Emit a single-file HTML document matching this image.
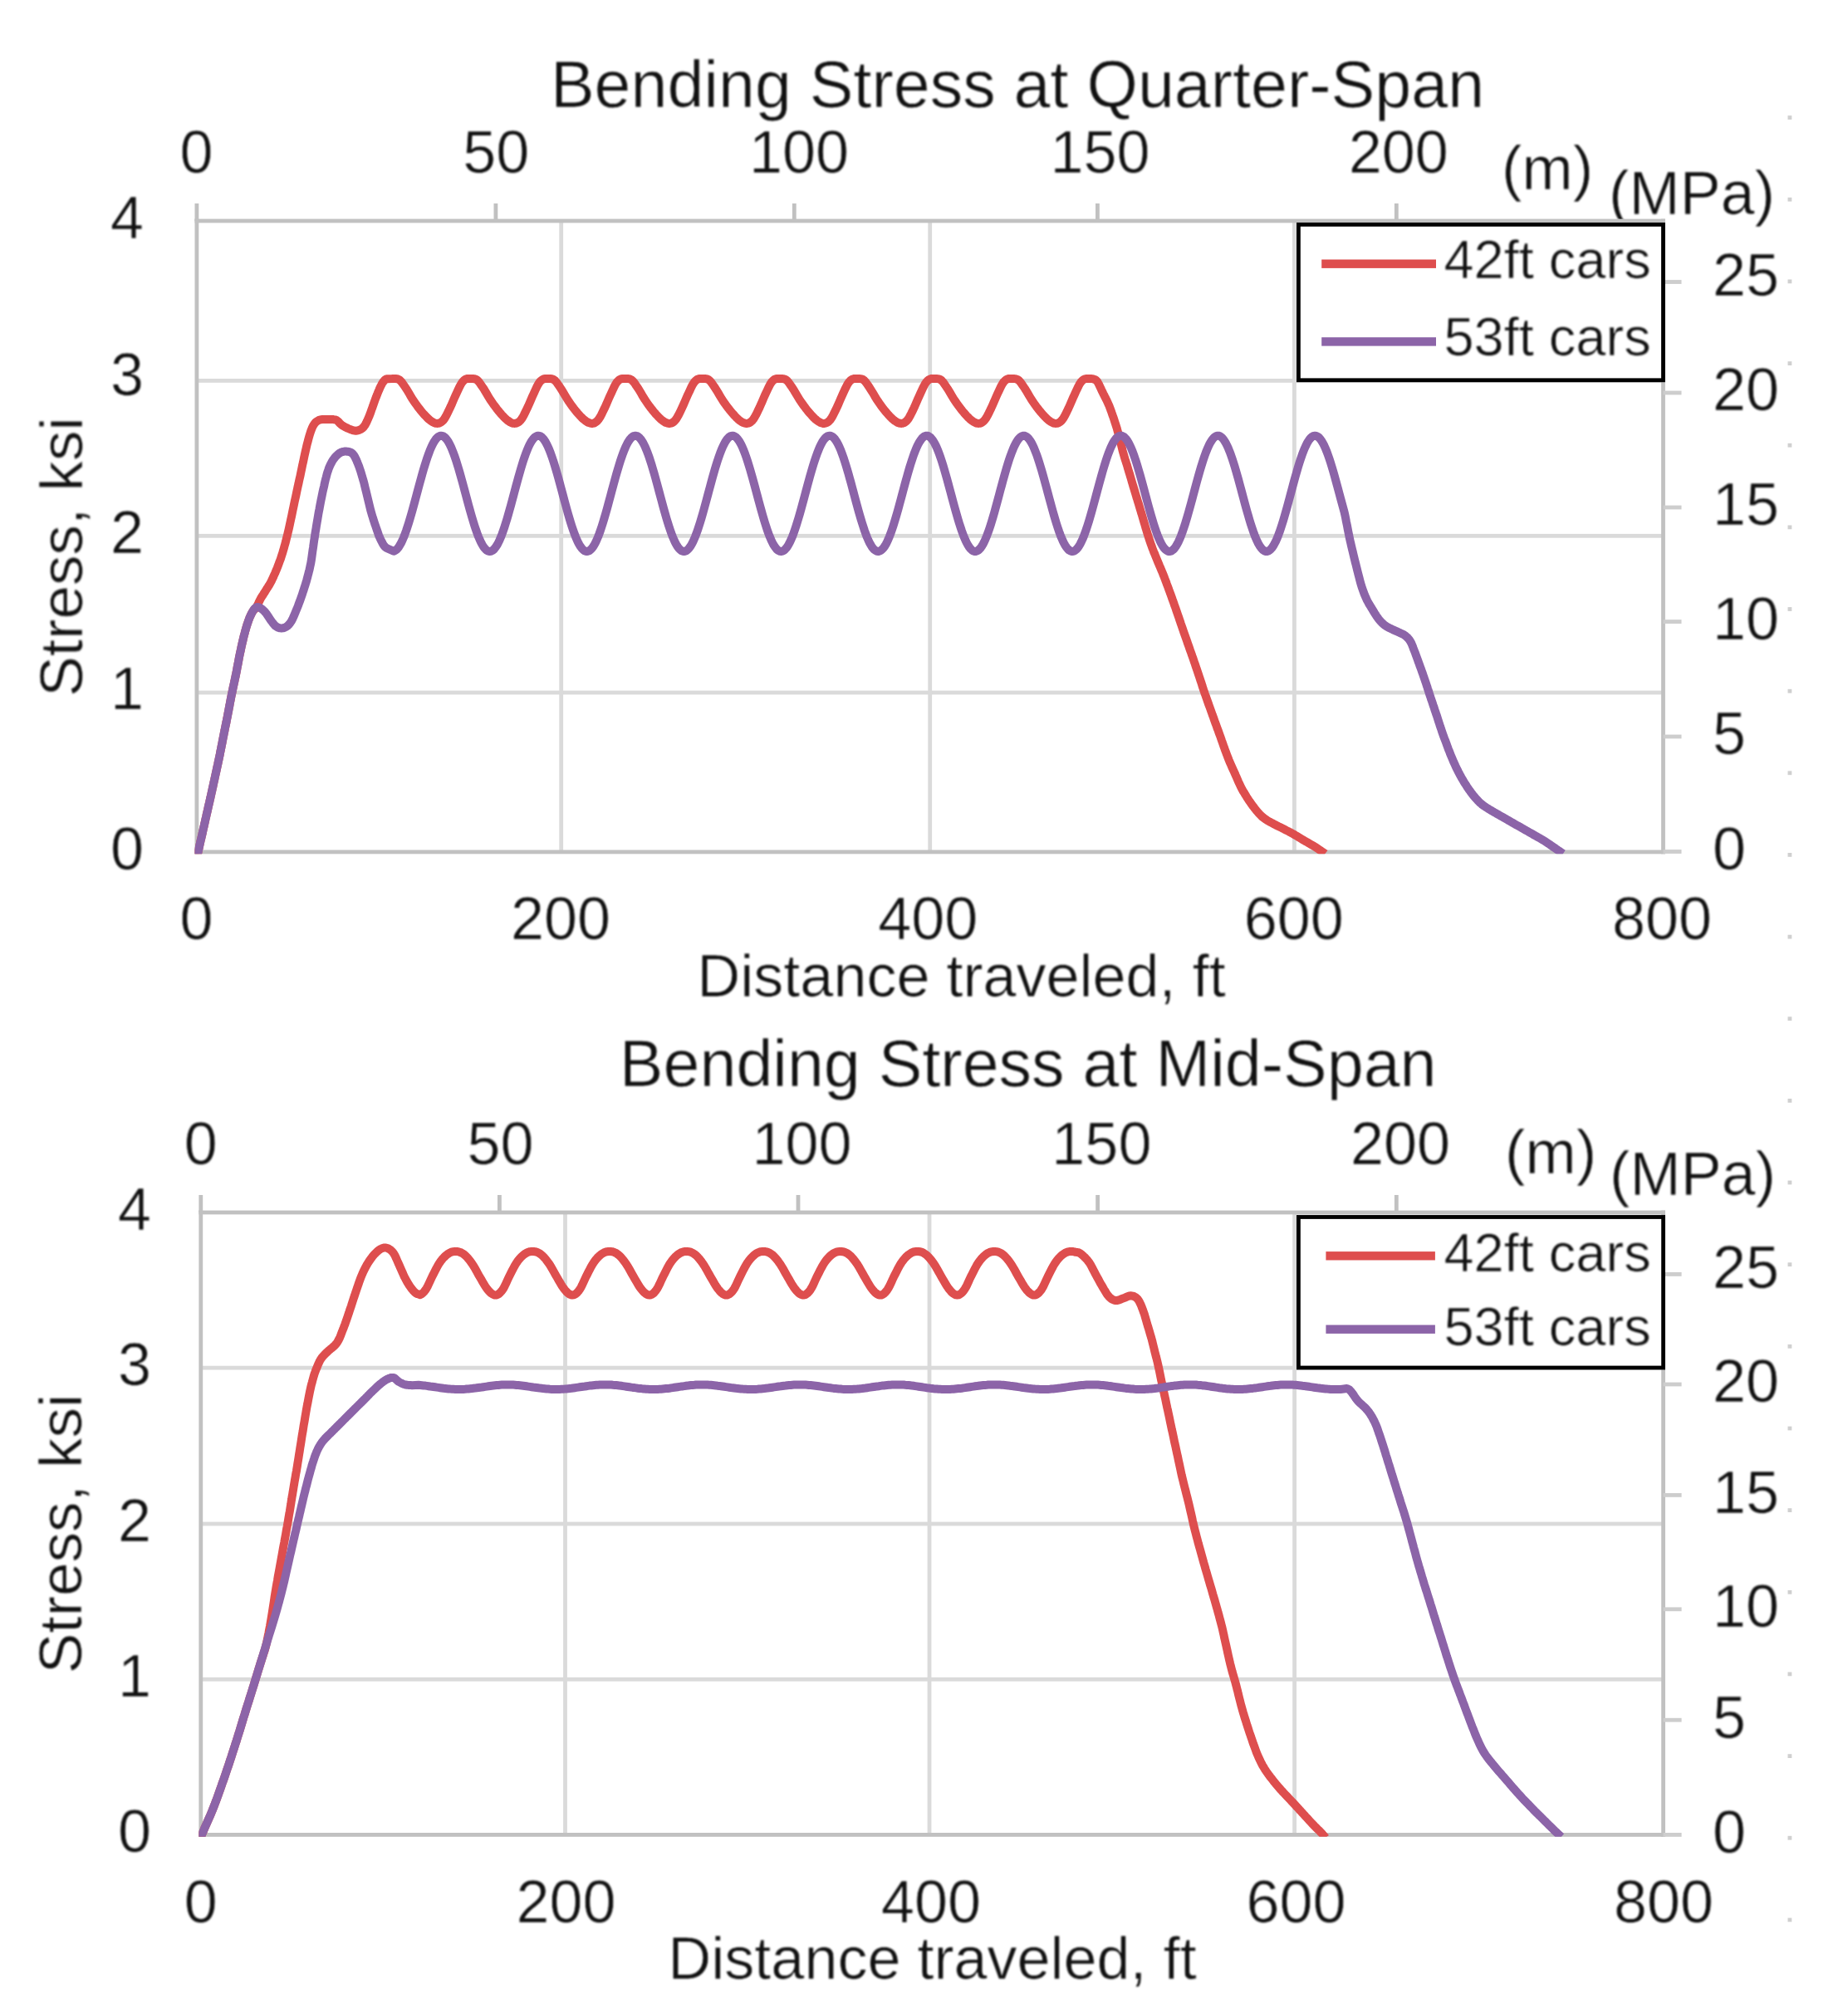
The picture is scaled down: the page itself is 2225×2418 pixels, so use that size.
<!DOCTYPE html>
<html><head><meta charset="utf-8"><title>Bending Stress</title>
<style>
html,body{margin:0;padding:0;background:#fff;}
svg{display:block;}
text{font-family:"Liberation Sans",Arial,sans-serif;fill:#111;stroke:#fff;stroke-width:0.7px;filter:blur(0.8px);}
.t{font-size:79px;}
.l{font-size:72px;}
.g{font-size:65px;}
.u{font-size:73.5px;}
</style></head><body>
<svg width="2225" height="2418" viewBox="0 0 2225 2418">
<rect width="2225" height="2418" fill="#fff"/>
<text class="u" x="1808" y="228">(m)</text>
<text class="u" x="1937" y="258">(MPa)</text>
<rect x="236.9" y="831.6" width="1765.6" height="4.8" fill="#DADADA"/>
<rect x="236.9" y="642.9" width="1765.6" height="4.8" fill="#DADADA"/>
<rect x="236.9" y="456.0" width="1765.6" height="4.8" fill="#DADADA"/>
<rect x="673.3" y="266" width="4.8" height="759.9000000000001" fill="#DADADA"/>
<rect x="1117.3" y="266" width="4.8" height="759.9000000000001" fill="#DADADA"/>
<rect x="1556.0" y="266" width="4.8" height="759.9000000000001" fill="#DADADA"/>
<rect x="234.5" y="263.6" width="4.8" height="764.7" fill="#C1C1C1"/>
<rect x="2000.1" y="263.6" width="4.8" height="764.7" fill="#C1C1C1"/>
<rect x="234.5" y="263.6" width="1770.4" height="4.8" fill="#C1C1C1"/>
<rect x="234.5" y="1023.5" width="1770.4" height="4.8" fill="#C1C1C1"/>
<rect x="234.5" y="245.0" width="4.8" height="21" fill="#C1C1C1"/>
<text class="l" x="236.6" y="208" text-anchor="middle">0</text>
<rect x="594.5" y="245.0" width="4.8" height="21" fill="#C1C1C1"/>
<text class="l" x="597.2" y="208" text-anchor="middle">50</text>
<rect x="953.9" y="245.0" width="4.8" height="21" fill="#C1C1C1"/>
<text class="l" x="962.0" y="208" text-anchor="middle">100</text>
<rect x="1319.0" y="245.0" width="4.8" height="21" fill="#C1C1C1"/>
<text class="l" x="1324.5" y="208" text-anchor="middle">150</text>
<rect x="1678.9" y="245.0" width="4.8" height="21" fill="#C1C1C1"/>
<text class="l" x="1683.7" y="208" text-anchor="middle">200</text>
<rect x="2002.5" y="337.1" width="22" height="4.8" fill="#CDCDCD"/>
<text class="l" x="2062" y="356.0">25</text>
<rect x="2002.5" y="470.6" width="22" height="4.8" fill="#CDCDCD"/>
<text class="l" x="2062" y="494.0">20</text>
<rect x="2002.5" y="608.6" width="22" height="4.8" fill="#CDCDCD"/>
<text class="l" x="2062" y="632.0">15</text>
<rect x="2002.5" y="746.2" width="22" height="4.8" fill="#CDCDCD"/>
<text class="l" x="2062" y="770.0">10</text>
<rect x="2002.5" y="884.6" width="22" height="4.8" fill="#CDCDCD"/>
<text class="l" x="2062" y="908.0">5</text>
<rect x="2002.5" y="1023.1" width="22" height="4.8" fill="#CDCDCD"/>
<text class="l" x="2062" y="1047.0">0</text>
<clipPath id="c1025"><rect x="234.5" y="266.0" width="1770.4" height="762.3"/></clipPath>
<g clip-path="url(#c1025)"><path d="M237.6,1030.0 L237.7,1029.5 L237.8,1029.0 L238.0,1028.4 L238.1,1027.6 L238.4,1026.7 L238.6,1025.5 L238.9,1024.2 L239.3,1022.5 L239.8,1020.5 L240.3,1018.1 L240.9,1015.5 L241.5,1012.7 L242.2,1009.8 L242.9,1006.8 L243.6,1003.9 L244.2,1001.0 L244.8,998.2 L245.5,995.4 L246.1,992.5 L246.8,989.6 L247.4,986.7 L248.1,983.8 L248.7,980.9 L249.4,978.0 L250.1,975.1 L250.7,972.2 L251.4,969.2 L252.1,966.3 L252.7,963.4 L253.4,960.5 L254.0,957.7 L254.6,955.0 L255.2,952.4 L255.7,949.9 L256.3,947.5 L256.8,945.1 L257.3,942.7 L257.9,940.2 L258.4,937.7 L259.0,935.0 L259.6,932.2 L260.3,929.2 L260.9,926.2 L261.6,923.1 L262.3,920.0 L262.9,917.0 L263.6,913.9 L264.2,911.0 L264.8,908.2 L265.3,905.4 L265.9,902.7 L266.4,900.0 L266.9,897.3 L267.5,894.6 L268.0,891.7 L268.6,888.8 L269.2,885.8 L269.8,882.6 L270.5,879.4 L271.1,876.2 L271.8,872.9 L272.5,869.6 L273.1,866.3 L273.8,863.0 L274.4,859.7 L275.1,856.3 L275.7,852.9 L276.4,849.5 L277.0,846.0 L277.7,842.6 L278.3,839.3 L279.0,836.0 L279.7,832.8 L280.3,829.6 L281.0,826.4 L281.7,823.2 L282.4,820.1 L283.0,817.0 L283.7,814.0 L284.3,811.0 L284.9,808.1 L285.4,805.2 L285.9,802.4 L286.5,799.7 L287.0,796.9 L287.5,794.1 L288.0,791.3 L288.6,788.5 L289.2,785.6 L289.9,782.6 L290.5,779.5 L291.2,776.4 L291.9,773.4 L292.6,770.5 L293.2,767.7 L293.9,765.0 L294.6,762.5 L295.2,760.1 L295.9,757.7 L296.5,755.5 L297.2,753.3 L297.8,751.3 L298.5,749.3 L299.1,747.5 L299.8,745.7 L300.4,744.1 L301.1,742.5 L301.8,741.1 L302.4,739.7 L303.1,738.4 L303.7,737.3 L304.3,736.2 L304.9,735.3 L305.4,734.6 L306.0,734.1 L306.5,733.6 L307.1,733.1 L307.6,732.6 L308.1,732.0 L308.7,731.2 L309.3,730.2 L309.8,729.1 L310.4,727.9 L311.0,726.7 L311.6,725.4 L312.2,724.1 L312.8,722.8 L313.5,721.5 L314.2,720.2 L315.0,718.9 L315.8,717.6 L316.7,716.3 L317.5,714.9 L318.4,713.6 L319.2,712.3 L320.0,711.0 L320.8,709.8 L321.5,708.6 L322.3,707.4 L323.0,706.3 L323.8,705.1 L324.5,703.8 L325.3,702.5 L326.1,701.0 L326.9,699.4 L327.8,697.6 L328.7,695.7 L329.5,693.8 L330.4,691.8 L331.3,689.9 L332.1,687.9 L332.9,686.0 L333.7,684.1 L334.4,682.2 L335.1,680.4 L335.8,678.5 L336.5,676.6 L337.2,674.8 L337.9,672.9 L338.5,671.0 L339.1,669.2 L339.7,667.3 L340.3,665.5 L340.8,663.7 L341.3,661.9 L341.9,660.0 L342.4,658.1 L343.0,656.0 L343.6,653.9 L344.2,651.6 L344.7,649.4 L345.3,647.0 L345.9,644.7 L346.5,642.2 L347.1,639.7 L347.7,637.1 L348.3,634.4 L348.9,631.6 L349.5,628.8 L350.1,625.9 L350.8,622.9 L351.4,619.9 L352.0,617.0 L352.6,614.1 L353.2,611.2 L353.8,608.4 L354.4,605.5 L355.0,602.6 L355.7,599.7 L356.3,596.9 L356.9,594.0 L357.5,591.1 L358.1,588.2 L358.7,585.4 L359.4,582.5 L360.0,579.6 L360.6,576.7 L361.3,573.9 L361.9,571.0 L362.5,568.1 L363.1,565.2 L363.7,562.3 L364.3,559.3 L365.0,556.4 L365.6,553.5 L366.2,550.6 L366.8,547.8 L367.4,545.1 L368.0,542.4 L368.6,539.8 L369.2,537.2 L369.8,534.6 L370.5,532.2 L371.1,529.8 L371.7,527.5 L372.3,525.4 L372.9,523.4 L373.5,521.5 L374.1,519.7 L374.7,518.0 L375.3,516.4 L375.9,514.9 L376.6,513.5 L377.3,512.2 L378.0,511.1 L378.8,510.0 L379.5,509.1 L380.3,508.3 L381.2,507.6 L382.0,507.0 L382.9,506.5 L383.8,506.0 L384.8,505.6 L385.8,505.4 L386.8,505.2 L387.9,505.1 L388.9,505.1 L390.0,505.1 L391.1,505.0 L392.1,505.0 L393.1,504.9 L394.2,504.9 L395.2,504.9 L396.2,504.9 L397.2,504.9 L398.2,504.9 L399.1,504.9 L400.0,505.0 L400.8,505.1 L401.5,505.1 L402.2,505.2 L402.9,505.2 L403.5,505.4 L404.1,505.5 L404.8,505.8 L405.5,506.2 L406.2,506.7 L406.9,507.3 L407.7,508.1 L408.4,508.9 L409.1,509.7 L410.0,510.5 L410.8,511.3 L411.8,512.0 L412.9,512.7 L414.0,513.4 L415.3,514.1 L416.6,514.8 L417.9,515.4 L419.2,516.0 L420.4,516.5 L421.6,517.0 L422.7,517.4 L423.8,517.8 L424.8,518.1 L425.9,518.4 L426.9,518.6 L427.9,518.7 L428.9,518.7 L429.9,518.6 L430.9,518.4 L432.0,518.0 L433.1,517.6 L434.1,517.1 L435.1,516.5 L436.2,515.7 L437.2,514.8 L438.1,513.8 L439.0,512.6 L439.9,511.2 L440.7,509.7 L441.5,508.1 L442.3,506.3 L443.1,504.5 L443.9,502.6 L444.7,500.7 L445.5,498.7 L446.3,496.5 L447.1,494.2 L447.9,491.9 L448.8,489.5 L449.6,487.1 L450.4,484.8 L451.2,482.6 L452.0,480.4 L452.9,478.2 L453.7,476.0 L454.6,473.8 L455.4,471.7 L456.3,469.7 L457.1,467.8 L457.8,466.2 L458.5,464.8 L459.2,463.5 L459.8,462.3 L460.4,461.3 L461.0,460.4 L461.6,459.6 L462.1,458.9 L462.7,458.2 L463.2,457.6 L463.7,457.2 L464.1,456.9 L464.5,456.7 L464.9,456.5 L465.5,456.4 L466.1,456.3 L467.0,456.2 L471.9,456.0 L473.4,455.9 L474.9,455.9 L476.4,456.0 L477.9,456.2 L479.4,456.6 L480.9,457.4 L482.4,458.7 L483.9,460.5 L485.4,462.6 L486.9,464.8 L488.4,467.0 L489.9,469.3 L491.4,471.8 L492.9,474.3 L494.4,476.9 L495.9,479.4 L497.4,481.7 L498.9,484.0 L500.4,486.1 L501.9,488.2 L503.4,490.3 L504.9,492.2 L506.4,494.1 L507.9,496.0 L509.4,497.7 L510.9,499.4 L512.5,501.0 L514.0,502.6 L515.5,504.1 L517.0,505.4 L518.5,506.6 L520.0,507.6 L521.5,508.5 L523.0,509.2 L524.5,509.7 L526.0,509.9 L527.5,509.8 L529.0,509.5 L530.5,508.8 L532.0,507.7 L533.5,506.3 L535.0,504.4 L536.5,501.9 L538.0,499.1 L539.5,496.0 L541.0,492.9 L542.5,489.8 L544.0,486.4 L545.5,482.9 L547.0,479.4 L548.5,476.1 L550.0,472.9 L551.5,469.6 L553.0,466.4 L554.5,463.5 L556.0,461.0 L557.5,459.1 L559.0,457.7 L560.5,456.7 L562.0,456.1 L563.5,456.0 L565.0,456.0 L566.5,455.9 L568.0,455.9 L569.5,456.0 L571.0,456.2 L572.5,456.6 L574.0,457.3 L575.5,458.6 L577.0,460.3 L578.5,462.4 L580.0,464.7 L581.5,466.8 L583.0,469.1 L584.5,471.6 L586.0,474.1 L587.5,476.7 L589.0,479.2 L590.5,481.6 L592.0,483.8 L593.5,486.0 L595.0,488.1 L596.5,490.1 L598.0,492.1 L599.5,494.0 L601.0,495.8 L602.5,497.6 L604.0,499.3 L605.5,500.9 L607.0,502.5 L608.5,504.0 L610.0,505.3 L611.5,506.5 L613.0,507.5 L614.5,508.5 L616.0,509.2 L617.5,509.7 L619.0,509.9 L620.5,509.8 L622.0,509.5 L623.5,508.8 L625.0,507.8 L626.5,506.4 L628.0,504.5 L629.5,502.1 L631.0,499.3 L632.5,496.2 L634.0,493.1 L635.5,490.0 L637.0,486.7 L638.5,483.2 L640.0,479.7 L641.5,476.3 L643.0,473.1 L644.5,469.8 L646.0,466.6 L647.5,463.6 L649.0,461.1 L650.5,459.2 L652.0,457.8 L653.5,456.8 L655.0,456.2 L656.5,456.0 L658.0,456.0 L659.5,455.9 L661.0,455.9 L662.5,455.9 L664.0,456.2 L665.5,456.6 L667.0,457.3 L668.5,458.5 L670.0,460.2 L671.5,462.3 L673.0,464.5 L674.5,466.7 L676.0,469.0 L677.5,471.4 L679.0,474.0 L680.5,476.5 L682.0,479.0 L683.5,481.4 L685.0,483.7 L686.5,485.8 L688.0,488.0 L689.5,490.0 L691.0,492.0 L692.5,493.9 L694.0,495.7 L695.5,497.5 L697.0,499.2 L698.5,500.8 L700.0,502.4 L701.5,503.9 L703.0,505.2 L704.5,506.4 L706.0,507.5 L707.5,508.4 L709.0,509.1 L710.5,509.6 L712.0,509.9 L713.5,509.9 L715.0,509.6 L716.5,508.9 L718.0,507.9 L719.5,506.5 L721.0,504.6 L722.5,502.3 L724.0,499.5 L725.5,496.4 L727.0,493.3 L728.5,490.2 L730.0,486.9 L731.5,483.4 L733.0,479.9 L734.5,476.5 L736.0,473.3 L737.5,470.0 L739.0,466.8 L740.5,463.8 L742.0,461.3 L743.5,459.3 L745.0,457.9 L746.5,456.8 L748.0,456.2 L749.5,456.0 L751.0,456.0 L752.5,455.9 L754.0,455.9 L755.5,455.9 L757.0,456.2 L758.5,456.5 L760.0,457.2 L761.5,458.4 L763.0,460.1 L764.5,462.1 L766.0,464.4 L767.5,466.5 L769.0,468.8 L770.5,471.3 L772.0,473.8 L773.5,476.4 L775.0,478.9 L776.5,481.3 L778.0,483.5 L779.5,485.7 L781.0,487.8 L782.5,489.9 L784.0,491.8 L785.5,493.8 L787.0,495.6 L788.5,497.4 L790.0,499.1 L791.5,500.7 L793.0,502.3 L794.5,503.8 L796.0,505.1 L797.5,506.3 L799.0,507.4 L800.5,508.4 L802.0,509.1 L803.5,509.6 L805.0,509.9 L806.5,509.9 L808.0,509.6 L809.5,509.0 L811.0,508.0 L812.5,506.6 L814.0,504.8 L815.5,502.4 L817.0,499.7 L818.5,496.7 L820.0,493.6 L821.5,490.4 L823.0,487.1 L824.5,483.6 L826.0,480.1 L827.5,476.7 L829.0,473.5 L830.5,470.3 L832.0,467.0 L833.5,464.0 L835.0,461.4 L836.5,459.4 L838.0,458.0 L839.5,456.9 L841.0,456.2 L842.5,456.0 L844.0,456.0 L845.5,455.9 L847.0,455.9 L848.5,455.9 L850.0,456.2 L851.5,456.5 L853.0,457.1 L854.5,458.3 L856.0,460.0 L857.5,462.0 L859.0,464.2 L860.5,466.4 L862.0,468.7 L863.5,471.1 L865.0,473.6 L866.5,476.2 L868.0,478.7 L869.5,481.1 L871.0,483.4 L872.5,485.6 L874.0,487.7 L875.5,489.7 L877.0,491.7 L878.5,493.6 L880.0,495.5 L881.5,497.2 L883.0,498.9 L884.5,500.6 L886.0,502.2 L887.5,503.7 L889.0,505.1 L890.5,506.3 L892.0,507.3 L893.5,508.3 L895.0,509.1 L896.5,509.6 L898.0,509.9 L899.5,509.9 L901.0,509.6 L902.5,509.0 L904.0,508.0 L905.5,506.7 L907.0,504.9 L908.5,502.6 L910.0,499.9 L911.5,496.9 L913.0,493.8 L914.5,490.7 L916.0,487.3 L917.5,483.9 L919.0,480.4 L920.5,476.9 L922.0,473.7 L923.5,470.5 L925.0,467.2 L926.5,464.2 L928.0,461.6 L929.5,459.5 L931.0,458.0 L932.5,456.9 L934.0,456.2 L935.5,456.0 L937.0,456.0 L938.5,455.9 L940.0,455.9 L941.5,455.9 L943.0,456.1 L944.5,456.5 L946.0,457.1 L947.5,458.2 L949.0,459.8 L950.5,461.9 L952.0,464.1 L953.5,466.2 L955.0,468.5 L956.5,470.9 L958.0,473.5 L959.5,476.0 L961.0,478.5 L962.5,481.0 L964.0,483.2 L965.5,485.4 L967.0,487.5 L968.5,489.6 L970.0,491.6 L971.5,493.5 L973.0,495.4 L974.5,497.1 L976.0,498.8 L977.5,500.5 L979.0,502.1 L980.5,503.6 L982.0,505.0 L983.5,506.2 L985.0,507.3 L986.5,508.2 L988.0,509.0 L989.5,509.5 L991.0,509.9 L992.5,509.9 L994.0,509.6 L995.5,509.1 L997.0,508.1 L998.5,506.8 L1000.0,505.1 L1001.5,502.8 L1003.0,500.1 L1004.5,497.1 L1006.0,494.0 L1007.5,490.9 L1009.0,487.6 L1010.5,484.1 L1012.0,480.6 L1013.5,477.2 L1015.0,473.9 L1016.5,470.7 L1018.0,467.4 L1019.5,464.4 L1021.0,461.7 L1022.5,459.7 L1024.0,458.1 L1025.5,457.0 L1027.0,456.3 L1028.5,456.0 L1030.0,456.0 L1031.5,455.9 L1033.0,455.9 L1034.5,455.9 L1036.0,456.1 L1037.5,456.4 L1039.0,457.0 L1040.5,458.1 L1042.0,459.7 L1043.5,461.7 L1045.0,463.9 L1046.5,466.1 L1048.0,468.4 L1049.5,470.8 L1051.0,473.3 L1052.5,475.8 L1054.0,478.4 L1055.5,480.8 L1057.0,483.1 L1058.5,485.3 L1060.0,487.4 L1061.5,489.5 L1063.0,491.5 L1064.5,493.4 L1066.0,495.2 L1067.5,497.0 L1069.0,498.7 L1070.5,500.4 L1072.0,502.0 L1073.5,503.5 L1075.0,504.9 L1076.5,506.1 L1078.0,507.2 L1079.5,508.2 L1081.0,509.0 L1082.5,509.5 L1084.0,509.8 L1085.5,509.9 L1087.0,509.7 L1088.5,509.1 L1090.0,508.2 L1091.5,506.9 L1093.0,505.2 L1094.5,502.9 L1096.0,500.2 L1097.5,497.3 L1099.0,494.2 L1100.5,491.1 L1102.0,487.8 L1103.5,484.3 L1105.0,480.8 L1106.5,477.4 L1108.0,474.1 L1109.5,470.9 L1111.0,467.7 L1112.5,464.6 L1114.0,461.9 L1115.5,459.8 L1117.0,458.2 L1118.5,457.1 L1120.0,456.3 L1121.5,456.0 L1123.0,456.0 L1124.5,455.9 L1126.0,455.9 L1127.5,455.9 L1129.0,456.1 L1130.5,456.4 L1132.0,457.0 L1133.5,458.0 L1135.0,459.6 L1136.5,461.6 L1138.0,463.8 L1139.5,466.0 L1141.0,468.2 L1142.5,470.6 L1144.0,473.1 L1145.5,475.7 L1147.0,478.2 L1148.5,480.7 L1150.0,482.9 L1151.5,485.1 L1153.0,487.3 L1154.5,489.3 L1156.0,491.3 L1157.5,493.3 L1159.0,495.1 L1160.5,496.9 L1162.0,498.6 L1163.5,500.3 L1165.0,501.9 L1166.5,503.4 L1168.0,504.8 L1169.5,506.0 L1171.0,507.1 L1172.5,508.1 L1174.0,508.9 L1175.5,509.5 L1177.0,509.8 L1178.5,509.9 L1180.0,509.7 L1181.5,509.2 L1183.0,508.3 L1184.5,507.0 L1186.0,505.3 L1187.5,503.1 L1189.0,500.4 L1190.5,497.5 L1192.0,494.4 L1193.5,491.3 L1195.0,488.0 L1196.5,484.6 L1198.0,481.1 L1199.5,477.6 L1201.0,474.3 L1202.5,471.1 L1204.0,467.9 L1205.5,464.8 L1207.0,462.1 L1208.5,459.9 L1210.0,458.3 L1211.5,457.1 L1213.0,456.3 L1214.5,456.0 L1216.0,456.0 L1217.5,456.0 L1219.0,455.9 L1220.5,455.9 L1222.0,456.1 L1223.5,456.4 L1225.0,456.9 L1226.5,457.9 L1228.0,459.5 L1229.5,461.4 L1231.0,463.6 L1232.5,465.8 L1234.0,468.0 L1235.5,470.4 L1237.0,472.9 L1238.5,475.5 L1240.0,478.0 L1241.5,480.5 L1243.0,482.8 L1244.5,485.0 L1246.0,487.1 L1247.5,489.2 L1249.0,491.2 L1250.5,493.1 L1252.0,495.0 L1253.5,496.8 L1255.0,498.5 L1256.5,500.2 L1258.0,501.8 L1259.5,503.3 L1261.0,504.7 L1262.5,506.0 L1264.0,507.1 L1265.5,508.1 L1267.0,508.9 L1268.5,509.5 L1270.0,509.8 L1271.5,509.9 L1273.0,509.7 L1274.5,509.2 L1276.0,508.3 L1277.5,507.1 L1279.0,505.4 L1280.5,503.3 L1282.0,500.6 L1283.5,497.7 L1285.0,494.6 L1286.5,491.5 L1288.0,488.2 L1289.5,484.8 L1291.0,481.3 L1292.5,477.8 L1294.0,474.6 L1295.5,471.3 L1297.0,468.1 L1298.5,465.0 L1300.0,462.2 L1301.5,460.0 L1303.0,458.4 L1304.5,457.2 L1306.0,456.4 L1307.5,456.1 L1309.0,456.0 L1310.5,456.0 L1312.0,455.9 L1313.5,455.9 L1315.0,456.1 L1316.5,456.4 L1318.0,456.9 L1319.5,457.8 L1321.0,459.3 L1321.0,459.3 L1321.8,460.5 L1322.6,462.0 L1323.4,463.6 L1324.3,465.4 L1325.2,467.3 L1326.0,469.1 L1326.9,471.0 L1327.7,472.7 L1328.5,474.4 L1329.4,476.0 L1330.2,477.7 L1331.1,479.3 L1331.9,481.0 L1332.7,482.6 L1333.5,484.3 L1334.2,485.9 L1334.9,487.5 L1335.6,489.1 L1336.2,490.7 L1336.8,492.3 L1337.4,494.0 L1338.0,495.6 L1338.6,497.3 L1339.2,499.0 L1339.8,500.8 L1340.5,502.6 L1341.1,504.4 L1341.7,506.3 L1342.3,508.2 L1342.9,510.1 L1343.5,511.9 L1344.1,513.8 L1344.7,515.6 L1345.2,517.5 L1345.7,519.3 L1346.2,521.1 L1346.7,522.9 L1347.2,524.8 L1347.7,526.7 L1348.2,528.6 L1348.7,530.6 L1349.2,532.6 L1349.7,534.7 L1350.2,536.8 L1350.7,538.8 L1351.2,540.9 L1351.7,543.0 L1352.3,545.1 L1352.9,547.2 L1353.5,549.2 L1354.1,551.3 L1354.7,553.3 L1355.4,555.3 L1356.0,557.4 L1356.7,559.4 L1357.3,561.5 L1357.9,563.6 L1358.5,565.6 L1359.1,567.7 L1359.8,569.8 L1360.4,571.8 L1361.0,573.9 L1361.6,575.9 L1362.2,578.0 L1362.8,580.1 L1363.4,582.1 L1364.0,584.2 L1364.6,586.2 L1365.3,588.3 L1365.9,590.3 L1366.5,592.4 L1367.1,594.4 L1367.7,596.4 L1368.3,598.5 L1369.0,600.5 L1369.6,602.6 L1370.2,604.6 L1370.9,606.7 L1371.5,608.7 L1372.1,610.8 L1372.7,612.9 L1373.3,614.9 L1373.9,617.0 L1374.6,619.0 L1375.2,621.1 L1375.8,623.2 L1376.4,625.2 L1377.0,627.3 L1377.6,629.4 L1378.2,631.4 L1378.8,633.5 L1379.4,635.6 L1380.1,637.7 L1380.7,639.7 L1381.3,641.7 L1381.9,643.7 L1382.5,645.6 L1383.1,647.5 L1383.7,649.3 L1384.3,651.1 L1384.9,652.9 L1385.5,654.7 L1386.2,656.6 L1386.9,658.5 L1387.6,660.5 L1388.4,662.5 L1389.2,664.6 L1390.1,666.6 L1390.9,668.7 L1391.7,670.8 L1392.6,672.9 L1393.4,674.9 L1394.2,676.9 L1395.1,678.9 L1395.9,680.9 L1396.8,682.8 L1397.6,684.8 L1398.4,686.7 L1399.2,688.6 L1400.0,690.5 L1400.7,692.4 L1401.5,694.2 L1402.1,696.0 L1402.8,697.8 L1403.5,699.6 L1404.2,701.4 L1404.8,703.2 L1405.5,705.0 L1406.2,706.8 L1406.9,708.7 L1407.5,710.5 L1408.2,712.3 L1408.9,714.2 L1409.6,716.1 L1410.3,718.0 L1411.0,720.0 L1411.7,722.0 L1412.5,724.1 L1413.2,726.1 L1413.9,728.2 L1414.7,730.4 L1415.5,732.6 L1416.2,734.8 L1417.0,737.0 L1417.8,739.3 L1418.6,741.6 L1419.4,743.9 L1420.2,746.3 L1421.0,748.7 L1421.8,751.1 L1422.7,753.6 L1423.5,756.0 L1424.4,758.5 L1425.2,761.0 L1426.1,763.5 L1427.0,766.0 L1427.9,768.5 L1428.8,771.0 L1429.6,773.5 L1430.5,776.0 L1431.4,778.4 L1432.2,780.8 L1433.0,783.2 L1433.9,785.5 L1434.7,787.9 L1435.5,790.2 L1436.4,792.6 L1437.2,795.0 L1438.0,797.4 L1438.9,799.9 L1439.7,802.3 L1440.5,804.8 L1441.4,807.2 L1442.2,809.7 L1443.0,812.1 L1443.8,814.5 L1444.6,816.9 L1445.4,819.3 L1446.2,821.7 L1447.0,824.1 L1447.7,826.5 L1448.5,828.8 L1449.2,831.1 L1450.0,833.3 L1450.7,835.5 L1451.5,837.5 L1452.2,839.6 L1452.9,841.5 L1453.6,843.5 L1454.3,845.5 L1455.0,847.6 L1455.8,849.7 L1456.6,851.9 L1457.4,854.1 L1458.2,856.4 L1459.0,858.6 L1459.8,860.9 L1460.7,863.2 L1461.5,865.5 L1462.3,867.8 L1463.1,870.1 L1464.0,872.4 L1464.8,874.7 L1465.6,877.0 L1466.5,879.2 L1467.3,881.5 L1468.1,883.7 L1468.9,885.9 L1469.7,888.0 L1470.4,890.2 L1471.1,892.2 L1471.9,894.3 L1472.6,896.3 L1473.3,898.4 L1474.0,900.3 L1474.7,902.3 L1475.4,904.2 L1476.1,906.1 L1476.8,908.0 L1477.5,909.8 L1478.2,911.6 L1478.9,913.4 L1479.6,915.3 L1480.4,917.1 L1481.2,919.0 L1482.0,920.8 L1482.8,922.6 L1483.6,924.5 L1484.5,926.4 L1485.3,928.2 L1486.2,930.1 L1487.0,931.9 L1487.8,933.8 L1488.7,935.7 L1489.5,937.6 L1490.3,939.5 L1491.1,941.4 L1492.0,943.2 L1492.8,945.0 L1493.6,946.7 L1494.4,948.3 L1495.2,949.8 L1496.0,951.3 L1496.8,952.8 L1497.7,954.1 L1498.5,955.5 L1499.3,956.9 L1500.1,958.2 L1500.9,959.5 L1501.7,960.8 L1502.5,962.0 L1503.3,963.2 L1504.1,964.4 L1504.9,965.6 L1505.8,966.8 L1506.7,968.1 L1507.6,969.4 L1508.6,970.8 L1509.7,972.1 L1510.7,973.5 L1511.7,974.8 L1512.8,976.2 L1513.9,977.4 L1514.9,978.6 L1515.9,979.7 L1516.9,980.7 L1517.9,981.7 L1518.8,982.6 L1519.8,983.6 L1520.9,984.4 L1522.0,985.3 L1523.2,986.2 L1524.5,987.1 L1525.8,987.9 L1527.3,988.8 L1528.8,989.6 L1530.2,990.4 L1531.8,991.2 L1533.2,992.0 L1534.7,992.8 L1536.1,993.5 L1537.6,994.3 L1539.0,995.0 L1540.4,995.6 L1541.8,996.3 L1543.3,997.0 L1544.7,997.8 L1546.2,998.5 L1547.7,999.3 L1549.2,1000.1 L1550.8,1000.9 L1552.3,1001.7 L1553.9,1002.5 L1555.4,1003.4 L1557.0,1004.2 L1558.5,1005.1 L1560.0,1006.0 L1561.6,1006.9 L1563.1,1007.9 L1564.7,1008.8 L1566.2,1009.7 L1567.8,1010.7 L1569.3,1011.6 L1570.8,1012.5 L1572.3,1013.4 L1573.8,1014.2 L1575.4,1015.1 L1576.9,1016.0 L1578.3,1016.8 L1579.7,1017.6 L1581.1,1018.4 L1582.3,1019.1 L1583.4,1019.8 L1584.5,1020.5 L1585.4,1021.1 L1586.4,1021.7 L1587.2,1022.3 L1588.1,1022.9 L1588.9,1023.4 L1589.7,1024.0 L1590.5,1024.6 L1591.4,1025.2 L1592.2,1025.7 L1593.1,1026.3 L1593.8,1026.8 L1594.5,1027.3 L1595.1,1027.7 L1595.5,1028.0" fill="none" stroke="#DE4E4E" stroke-width="10" stroke-linejoin="round" stroke-linecap="butt"/>
<path d="M237.6,1030.0 L237.7,1029.5 L237.8,1029.0 L238.0,1028.4 L238.1,1027.6 L238.4,1026.7 L238.6,1025.5 L238.9,1024.2 L239.3,1022.5 L239.8,1020.5 L240.3,1018.1 L240.9,1015.5 L241.5,1012.7 L242.2,1009.8 L242.9,1006.8 L243.6,1003.9 L244.2,1001.0 L244.8,998.2 L245.5,995.4 L246.1,992.5 L246.8,989.6 L247.4,986.7 L248.1,983.8 L248.7,980.9 L249.4,978.0 L250.1,975.1 L250.7,972.2 L251.4,969.2 L252.1,966.3 L252.7,963.4 L253.4,960.5 L254.0,957.7 L254.6,955.0 L255.2,952.4 L255.7,949.9 L256.3,947.5 L256.8,945.1 L257.3,942.7 L257.9,940.2 L258.4,937.7 L259.0,935.0 L259.6,932.2 L260.3,929.2 L260.9,926.2 L261.6,923.1 L262.3,920.0 L262.9,917.0 L263.6,913.9 L264.2,911.0 L264.8,908.2 L265.3,905.4 L265.9,902.7 L266.4,900.0 L266.9,897.3 L267.5,894.6 L268.0,891.7 L268.6,888.8 L269.2,885.8 L269.8,882.6 L270.5,879.4 L271.1,876.2 L271.8,872.9 L272.5,869.6 L273.1,866.3 L273.8,863.0 L274.4,859.7 L275.1,856.3 L275.7,852.9 L276.4,849.5 L277.0,846.0 L277.7,842.6 L278.3,839.3 L279.0,836.0 L279.7,832.8 L280.3,829.6 L281.0,826.4 L281.7,823.2 L282.4,820.1 L283.0,817.0 L283.7,814.0 L284.3,811.0 L284.9,808.1 L285.4,805.2 L285.9,802.4 L286.5,799.7 L287.0,796.9 L287.5,794.1 L288.0,791.3 L288.6,788.5 L289.2,785.6 L289.9,782.6 L290.5,779.5 L291.2,776.4 L291.9,773.4 L292.6,770.5 L293.2,767.7 L293.9,765.0 L294.6,762.5 L295.2,760.1 L295.9,757.7 L296.5,755.5 L297.2,753.3 L297.8,751.3 L298.5,749.3 L299.1,747.5 L299.8,745.7 L300.4,744.1 L301.1,742.5 L301.8,741.1 L302.4,739.7 L303.1,738.4 L303.7,737.3 L304.3,736.2 L304.9,735.2 L305.4,734.4 L306.0,733.6 L306.5,732.9 L307.0,732.3 L307.6,731.9 L308.1,731.5 L308.7,731.2 L309.3,731.0 L309.9,731.0 L310.6,731.0 L311.2,731.1 L311.8,731.4 L312.5,731.6 L313.2,732.0 L313.9,732.4 L314.6,732.9 L315.4,733.4 L316.1,734.0 L316.9,734.7 L317.7,735.5 L318.5,736.3 L319.2,737.1 L320.0,738.0 L320.8,739.0 L321.5,740.1 L322.3,741.2 L323.1,742.4 L323.8,743.6 L324.6,744.8 L325.3,745.9 L326.1,747.0 L326.8,748.0 L327.6,749.0 L328.3,750.0 L329.0,750.9 L329.8,751.8 L330.5,752.6 L331.2,753.4 L332.0,754.0 L332.8,754.6 L333.6,755.0 L334.4,755.5 L335.2,755.8 L336.0,756.1 L336.9,756.3 L337.7,756.4 L338.5,756.5 L339.3,756.5 L340.1,756.4 L341.0,756.3 L341.8,756.0 L342.6,755.7 L343.4,755.4 L344.2,755.0 L345.0,754.5 L345.7,754.0 L346.5,753.4 L347.1,752.8 L347.8,752.1 L348.5,751.3 L349.2,750.5 L349.8,749.5 L350.5,748.5 L351.2,747.4 L351.8,746.1 L352.5,744.8 L353.1,743.4 L353.8,741.9 L354.4,740.4 L355.1,738.8 L355.8,737.1 L356.5,735.3 L357.3,733.5 L358.1,731.5 L358.9,729.5 L359.6,727.5 L360.4,725.4 L361.2,723.4 L361.9,721.4 L362.6,719.4 L363.3,717.4 L364.0,715.4 L364.6,713.4 L365.3,711.4 L365.9,709.5 L366.5,707.6 L367.1,705.7 L367.7,703.9 L368.2,702.2 L368.7,700.5 L369.2,698.8 L369.6,697.2 L370.1,695.5 L370.5,693.8 L371.0,692.0 L371.5,690.2 L371.9,688.4 L372.4,686.7 L372.8,684.9 L373.2,683.0 L373.6,681.0 L374.1,678.9 L374.5,676.6 L374.9,674.1 L375.3,671.4 L375.7,668.5 L376.1,665.6 L376.5,662.6 L377.0,659.5 L377.4,656.5 L377.8,653.6 L378.2,650.7 L378.7,647.9 L379.1,645.0 L379.5,642.1 L380.0,639.2 L380.5,636.4 L380.9,633.5 L381.4,630.6 L381.9,627.7 L382.4,624.8 L382.9,621.8 L383.4,618.8 L383.9,615.9 L384.5,613.0 L385.0,610.2 L385.5,607.5 L386.0,604.9 L386.5,602.3 L387.0,599.9 L387.5,597.4 L388.0,595.0 L388.5,592.6 L389.0,590.2 L389.6,587.8 L390.2,585.3 L390.7,582.7 L391.3,580.1 L391.9,577.5 L392.6,575.0 L393.2,572.6 L393.8,570.3 L394.5,568.1 L395.2,566.1 L395.8,564.2 L396.5,562.5 L397.2,560.8 L397.9,559.3 L398.7,557.8 L399.5,556.3 L400.3,554.9 L401.2,553.5 L402.2,552.2 L403.2,550.9 L404.3,549.7 L405.3,548.6 L406.4,547.6 L407.5,546.7 L408.5,545.9 L409.5,545.3 L410.6,544.7 L411.6,544.3 L412.6,544.0 L413.6,543.8 L414.6,543.6 L415.7,543.6 L416.7,543.6 L417.7,543.7 L418.8,543.8 L419.8,543.9 L420.9,544.2 L421.9,544.6 L423.0,545.1 L424.0,545.8 L424.9,546.7 L425.8,547.8 L426.7,549.2 L427.5,550.7 L428.3,552.4 L429.2,554.1 L429.9,556.0 L430.7,557.9 L431.5,559.9 L432.3,561.9 L433.0,564.0 L433.8,566.3 L434.5,568.5 L435.2,570.9 L435.9,573.2 L436.6,575.6 L437.3,578.0 L438.0,580.4 L438.6,582.8 L439.2,585.3 L439.8,587.8 L440.4,590.2 L441.0,592.7 L441.6,595.2 L442.2,597.7 L442.8,600.2 L443.4,602.7 L444.0,605.2 L444.6,607.6 L445.2,610.1 L445.8,612.6 L446.4,615.0 L447.1,617.4 L447.8,619.8 L448.5,622.1 L449.2,624.4 L450.0,626.8 L450.7,629.0 L451.4,631.2 L452.2,633.4 L452.9,635.5 L453.6,637.5 L454.3,639.5 L455.0,641.5 L455.6,643.4 L456.3,645.3 L457.1,647.0 L457.8,648.7 L458.6,650.3 L459.4,651.8 L460.2,653.4 L461.0,654.9 L461.8,656.3 L462.7,657.5 L463.6,658.6 L464.7,659.5 L466.0,660.2 L474.0,663.8 L475.5,663.2 L477.0,662.2 L478.5,660.7 L480.0,658.8 L481.5,656.4 L483.0,653.7 L484.5,650.6 L486.0,647.1 L487.5,643.2 L489.0,639.1 L490.5,634.6 L492.0,629.9 L493.5,625.0 L495.0,619.9 L496.5,614.6 L498.0,609.1 L499.5,603.6 L501.0,598.0 L502.5,592.4 L504.0,586.8 L505.5,581.2 L507.0,575.8 L508.5,570.4 L510.0,565.2 L511.5,560.2 L513.0,555.5 L514.5,550.9 L516.0,546.7 L517.5,542.7 L519.0,539.1 L520.5,535.9 L522.0,533.0 L523.5,530.6 L525.0,528.5 L526.5,526.9 L528.0,525.7 L529.5,525.0 L531.0,524.7 L532.5,524.9 L534.0,525.5 L535.5,526.6 L537.0,528.1 L538.5,530.0 L540.0,532.3 L541.5,535.1 L543.0,538.2 L544.5,541.8 L546.0,545.6 L547.5,549.8 L549.0,554.2 L550.5,558.9 L552.0,563.9 L553.5,569.0 L555.0,574.3 L556.5,579.8 L558.0,585.3 L559.5,590.9 L561.0,596.5 L562.5,602.1 L564.0,607.7 L565.5,613.1 L567.0,618.5 L568.5,623.6 L570.0,628.6 L571.5,633.4 L573.0,637.9 L574.5,642.2 L576.0,646.1 L577.5,649.7 L579.0,652.9 L580.5,655.7 L582.0,658.2 L583.5,660.2 L585.0,661.8 L586.5,663.0 L588.0,663.7 L589.5,664.0 L591.0,663.8 L592.5,663.2 L594.0,662.1 L595.5,660.6 L597.0,658.6 L598.5,656.3 L600.0,653.5 L601.5,650.3 L603.0,646.8 L604.5,643.0 L606.0,638.8 L607.5,634.3 L609.0,629.6 L610.5,624.7 L612.0,619.5 L613.5,614.2 L615.0,608.8 L616.5,603.2 L618.0,597.6 L619.5,592.0 L621.0,586.4 L622.5,580.9 L624.0,575.4 L625.5,570.1 L627.0,564.9 L628.5,559.9 L630.0,555.1 L631.5,550.6 L633.0,546.4 L634.5,542.5 L636.0,538.9 L637.5,535.7 L639.0,532.9 L640.5,530.4 L642.0,528.4 L643.5,526.8 L645.0,525.7 L646.5,525.0 L648.0,524.7 L649.5,524.9 L651.0,525.5 L652.5,526.6 L654.0,528.2 L655.5,530.1 L657.0,532.5 L658.5,535.3 L660.0,538.5 L661.5,542.0 L663.0,545.9 L664.5,550.1 L666.0,554.5 L667.5,559.3 L669.0,564.2 L670.5,569.4 L672.0,574.7 L673.5,580.1 L675.0,585.7 L676.5,591.3 L678.0,596.9 L679.5,602.5 L681.0,608.0 L682.5,613.5 L684.0,618.8 L685.5,624.0 L687.0,629.0 L688.5,633.7 L690.0,638.2 L691.5,642.4 L693.0,646.3 L694.5,649.9 L696.0,653.1 L697.5,655.9 L699.0,658.3 L700.5,660.3 L702.0,661.9 L703.5,663.1 L705.0,663.8 L706.5,664.0 L708.0,663.8 L709.5,663.1 L711.0,662.0 L712.5,660.5 L714.0,658.5 L715.5,656.1 L717.0,653.3 L718.5,650.1 L720.0,646.6 L721.5,642.7 L723.0,638.5 L724.5,634.0 L726.0,629.3 L727.5,624.3 L729.0,619.2 L730.5,613.8 L732.0,608.4 L733.5,602.8 L735.0,597.3 L736.5,591.6 L738.0,586.0 L739.5,580.5 L741.0,575.0 L742.5,569.7 L744.0,564.6 L745.5,559.6 L747.0,554.8 L748.5,550.3 L750.0,546.1 L751.5,542.2 L753.0,538.7 L754.5,535.5 L756.0,532.7 L757.5,530.3 L759.0,528.3 L760.5,526.7 L762.0,525.6 L763.5,524.9 L765.0,524.7 L766.5,524.9 L768.0,525.6 L769.5,526.7 L771.0,528.3 L772.5,530.3 L774.0,532.7 L775.5,535.5 L777.0,538.7 L778.5,542.2 L780.0,546.1 L781.5,550.3 L783.0,554.8 L784.5,559.6 L786.0,564.6 L787.5,569.7 L789.0,575.0 L790.5,580.5 L792.0,586.0 L793.5,591.6 L795.0,597.3 L796.5,602.8 L798.0,608.4 L799.5,613.8 L801.0,619.2 L802.5,624.3 L804.0,629.3 L805.5,634.0 L807.0,638.5 L808.5,642.7 L810.0,646.6 L811.5,650.1 L813.0,653.3 L814.5,656.1 L816.0,658.5 L817.5,660.5 L819.0,662.0 L820.5,663.1 L822.0,663.8 L823.5,664.0 L825.0,663.8 L826.5,663.1 L828.0,661.9 L829.5,660.3 L831.0,658.3 L832.5,655.9 L834.0,653.1 L835.5,649.9 L837.0,646.3 L838.5,642.4 L840.0,638.2 L841.5,633.7 L843.0,629.0 L844.5,624.0 L846.0,618.8 L847.5,613.5 L849.0,608.0 L850.5,602.5 L852.0,596.9 L853.5,591.3 L855.0,585.7 L856.5,580.1 L858.0,574.7 L859.5,569.4 L861.0,564.2 L862.5,559.3 L864.0,554.5 L865.5,550.1 L867.0,545.9 L868.5,542.0 L870.0,538.5 L871.5,535.3 L873.0,532.5 L874.5,530.1 L876.0,528.2 L877.5,526.6 L879.0,525.5 L880.5,524.9 L882.0,524.7 L883.5,525.0 L885.0,525.7 L886.5,526.8 L888.0,528.4 L889.5,530.4 L891.0,532.9 L892.5,535.7 L894.0,538.9 L895.5,542.5 L897.0,546.4 L898.5,550.6 L900.0,555.1 L901.5,559.9 L903.0,564.9 L904.5,570.1 L906.0,575.4 L907.5,580.9 L909.0,586.4 L910.5,592.0 L912.0,597.6 L913.5,603.2 L915.0,608.8 L916.5,614.2 L918.0,619.5 L919.5,624.7 L921.0,629.6 L922.5,634.3 L924.0,638.8 L925.5,643.0 L927.0,646.8 L928.5,650.3 L930.0,653.5 L931.5,656.3 L933.0,658.6 L934.5,660.6 L936.0,662.1 L937.5,663.2 L939.0,663.8 L940.5,664.0 L942.0,663.7 L943.5,663.0 L945.0,661.8 L946.5,660.2 L948.0,658.2 L949.5,655.7 L951.0,652.9 L952.5,649.7 L954.0,646.1 L955.5,642.2 L957.0,637.9 L958.5,633.4 L960.0,628.6 L961.5,623.6 L963.0,618.5 L964.5,613.1 L966.0,607.7 L967.5,602.1 L969.0,596.5 L970.5,590.9 L972.0,585.3 L973.5,579.8 L975.0,574.3 L976.5,569.0 L978.0,563.9 L979.5,558.9 L981.0,554.2 L982.5,549.8 L984.0,545.6 L985.5,541.8 L987.0,538.2 L988.5,535.1 L990.0,532.3 L991.5,530.0 L993.0,528.1 L994.5,526.6 L996.0,525.5 L997.5,524.9 L999.0,524.7 L1000.5,525.0 L1002.0,525.7 L1003.5,526.9 L1005.0,528.5 L1006.5,530.6 L1008.0,533.0 L1009.5,535.9 L1011.0,539.1 L1012.5,542.7 L1014.0,546.7 L1015.5,550.9 L1017.0,555.5 L1018.5,560.2 L1020.0,565.2 L1021.5,570.4 L1023.0,575.8 L1024.5,581.2 L1026.0,586.8 L1027.5,592.4 L1029.0,598.0 L1030.5,603.6 L1032.0,609.1 L1033.5,614.6 L1035.0,619.9 L1036.5,625.0 L1038.0,629.9 L1039.5,634.6 L1041.0,639.1 L1042.5,643.2 L1044.0,647.1 L1045.5,650.6 L1047.0,653.7 L1048.5,656.4 L1050.0,658.8 L1051.5,660.7 L1053.0,662.2 L1054.5,663.2 L1056.0,663.8 L1057.5,664.0 L1059.0,663.7 L1060.5,662.9 L1062.0,661.7 L1063.5,660.1 L1065.0,658.0 L1066.5,655.6 L1068.0,652.7 L1069.5,649.4 L1071.0,645.8 L1072.5,641.9 L1074.0,637.6 L1075.5,633.1 L1077.0,628.3 L1078.5,623.3 L1080.0,618.1 L1081.5,612.8 L1083.0,607.3 L1084.5,601.7 L1086.0,596.1 L1087.5,590.5 L1089.0,584.9 L1090.5,579.4 L1092.0,574.0 L1093.5,568.7 L1095.0,563.5 L1096.5,558.6 L1098.0,553.9 L1099.5,549.5 L1101.0,545.3 L1102.5,541.5 L1104.0,538.0 L1105.5,534.9 L1107.0,532.2 L1108.5,529.9 L1110.0,527.9 L1111.5,526.5 L1113.0,525.4 L1114.5,524.8 L1116.0,524.7 L1117.5,525.0 L1119.0,525.8 L1120.5,527.0 L1122.0,528.7 L1123.5,530.7 L1125.0,533.2 L1126.5,536.1 L1128.0,539.4 L1129.5,543.0 L1131.0,547.0 L1132.5,551.2 L1134.0,555.8 L1135.5,560.6 L1137.0,565.6 L1138.5,570.8 L1140.0,576.1 L1141.5,581.6 L1143.0,587.2 L1144.5,592.8 L1146.0,598.4 L1147.5,604.0 L1149.0,609.5 L1150.5,614.9 L1152.0,620.2 L1153.5,625.3 L1155.0,630.3 L1156.5,634.9 L1158.0,639.4 L1159.5,643.5 L1161.0,647.3 L1162.5,650.8 L1164.0,653.9 L1165.5,656.6 L1167.0,658.9 L1168.5,660.8 L1170.0,662.3 L1171.5,663.3 L1173.0,663.9 L1174.5,664.0 L1176.0,663.7 L1177.5,662.9 L1179.0,661.6 L1180.5,660.0 L1182.0,657.9 L1183.5,655.4 L1185.0,652.5 L1186.5,649.2 L1188.0,645.6 L1189.5,641.6 L1191.0,637.3 L1192.5,632.8 L1194.0,628.0 L1195.5,623.0 L1197.0,617.8 L1198.5,612.4 L1200.0,606.9 L1201.5,601.4 L1203.0,595.8 L1204.5,590.1 L1206.0,584.6 L1207.5,579.0 L1209.0,573.6 L1210.5,568.3 L1212.0,563.2 L1213.5,558.3 L1215.0,553.6 L1216.5,549.2 L1218.0,545.1 L1219.5,541.3 L1221.0,537.8 L1222.5,534.7 L1224.0,532.0 L1225.5,529.7 L1227.0,527.8 L1228.5,526.4 L1230.0,525.4 L1231.5,524.8 L1233.0,524.7 L1234.5,525.1 L1236.0,525.9 L1237.5,527.1 L1239.0,528.8 L1240.5,530.9 L1242.0,533.4 L1243.5,536.3 L1245.0,539.6 L1246.5,543.3 L1248.0,547.2 L1249.5,551.5 L1251.0,556.1 L1252.5,560.9 L1254.0,565.9 L1255.5,571.1 L1257.0,576.5 L1258.5,582.0 L1260.0,587.5 L1261.5,593.1 L1263.0,598.7 L1264.5,604.3 L1266.0,609.8 L1267.5,615.3 L1269.0,620.5 L1270.5,625.7 L1272.0,630.6 L1273.5,635.2 L1275.0,639.7 L1276.5,643.8 L1278.0,647.6 L1279.5,651.0 L1281.0,654.1 L1282.5,656.8 L1284.0,659.1 L1285.5,660.9 L1287.0,662.4 L1288.5,663.3 L1290.0,663.9 L1291.5,664.0 L1293.0,663.6 L1294.5,662.8 L1296.0,661.5 L1297.5,659.9 L1299.0,657.7 L1300.5,655.2 L1302.0,652.3 L1303.5,649.0 L1305.0,645.3 L1306.5,641.3 L1308.0,637.0 L1309.5,632.5 L1311.0,627.7 L1312.5,622.6 L1314.0,617.4 L1315.5,612.0 L1317.0,606.5 L1318.5,601.0 L1320.0,595.4 L1321.5,589.8 L1323.0,584.2 L1324.5,578.7 L1326.0,573.3 L1327.5,568.0 L1329.0,562.9 L1330.5,558.0 L1332.0,553.3 L1333.5,548.9 L1335.0,544.8 L1336.5,541.0 L1338.0,537.6 L1339.5,534.5 L1341.0,531.8 L1342.5,529.6 L1344.0,527.7 L1345.5,526.3 L1347.0,525.3 L1348.5,524.8 L1350.0,524.7 L1351.5,525.1 L1353.0,525.9 L1354.5,527.2 L1356.0,528.9 L1357.5,531.0 L1359.0,533.6 L1360.5,536.5 L1362.0,539.8 L1363.5,543.5 L1365.0,547.5 L1366.5,551.8 L1368.0,556.4 L1369.5,561.2 L1371.0,566.3 L1372.5,571.5 L1374.0,576.9 L1375.5,582.3 L1377.0,587.9 L1378.5,593.5 L1380.0,599.1 L1381.5,604.7 L1383.0,610.2 L1384.5,615.6 L1386.0,620.9 L1387.5,626.0 L1389.0,630.9 L1390.5,635.5 L1392.0,639.9 L1393.5,644.0 L1395.0,647.8 L1396.5,651.2 L1398.0,654.3 L1399.5,656.9 L1401.0,659.2 L1402.5,661.0 L1404.0,662.4 L1405.5,663.4 L1407.0,663.9 L1408.5,664.0 L1410.0,663.6 L1411.5,662.7 L1413.0,661.5 L1414.5,659.7 L1416.0,657.6 L1417.5,655.0 L1419.0,652.1 L1420.5,648.7 L1422.0,645.1 L1423.5,641.1 L1425.0,636.7 L1426.5,632.2 L1428.0,627.3 L1429.5,622.3 L1431.0,617.0 L1432.5,611.7 L1434.0,606.2 L1435.5,600.6 L1437.0,595.0 L1438.5,589.4 L1440.0,583.8 L1441.5,578.3 L1443.0,572.9 L1444.5,567.6 L1446.0,562.5 L1447.5,557.7 L1449.0,553.0 L1450.5,548.6 L1452.0,544.5 L1453.5,540.8 L1455.0,537.4 L1456.5,534.3 L1458.0,531.7 L1459.5,529.4 L1461.0,527.6 L1462.5,526.2 L1464.0,525.3 L1465.5,524.8 L1467.0,524.7 L1468.5,525.1 L1470.0,526.0 L1471.5,527.3 L1473.0,529.0 L1474.5,531.2 L1476.0,533.8 L1477.5,536.7 L1479.0,540.1 L1480.5,543.8 L1482.0,547.8 L1483.5,552.1 L1485.0,556.7 L1486.5,561.5 L1488.0,566.6 L1489.5,571.8 L1491.0,577.2 L1492.5,582.7 L1494.0,588.3 L1495.5,593.9 L1497.0,599.5 L1498.5,605.1 L1500.0,610.6 L1501.5,616.0 L1503.0,621.2 L1504.5,626.3 L1506.0,631.2 L1507.5,635.8 L1509.0,640.2 L1510.5,644.3 L1512.0,648.0 L1513.5,651.4 L1515.0,654.5 L1516.5,657.1 L1518.0,659.3 L1519.5,661.1 L1521.0,662.5 L1522.5,663.4 L1524.0,663.9 L1525.5,664.0 L1527.0,663.5 L1528.5,662.7 L1530.0,661.3 L1531.5,659.6 L1533.0,657.4 L1534.5,654.8 L1536.0,651.9 L1537.5,648.5 L1539.0,644.8 L1540.5,640.8 L1542.0,636.4 L1543.5,631.8 L1545.0,627.0 L1546.5,621.9 L1548.0,616.7 L1549.5,611.3 L1551.0,605.8 L1552.5,600.2 L1554.0,594.6 L1555.5,589.0 L1557.0,583.4 L1558.5,577.9 L1560.0,572.5 L1561.5,567.3 L1563.0,562.2 L1564.5,557.3 L1566.0,552.7 L1567.5,548.3 L1569.0,544.3 L1570.5,540.5 L1572.0,537.2 L1573.5,534.1 L1575.0,531.5 L1576.5,529.3 L1578.0,527.5 L1579.5,526.1 L1581.0,525.2 L1582.5,524.8 L1584.0,524.7 L1585.5,525.2 L1587.0,526.1 L1588.5,527.4 L1590.0,529.2 L1591.5,531.4 L1593.0,534.0 L1594.5,536.9 L1596.0,540.3 L1597.5,544.0 L1599.0,548.1 L1600.5,552.4 L1602.0,557.0 L1603.5,561.9 L1605.0,566.9 L1606.5,572.2 L1608.0,577.6 L1609.5,583.1 L1611.0,588.6 L1612.5,594.3 L1614.0,599.9 L1615.5,605.4 L1617.0,610.9 L1618.5,616.3 L1618.5,616.3 L1619.3,619.9 L1620.1,623.8 L1620.9,628.0 L1621.8,632.2 L1622.6,636.5 L1623.4,640.6 L1624.2,644.5 L1624.9,648.0 L1625.6,651.2 L1626.3,654.1 L1626.9,656.8 L1627.5,659.4 L1628.1,661.9 L1628.7,664.3 L1629.3,666.8 L1629.9,669.3 L1630.5,671.9 L1631.1,674.4 L1631.7,676.9 L1632.4,679.4 L1633.0,681.9 L1633.6,684.3 L1634.2,686.7 L1634.8,689.1 L1635.4,691.5 L1636.0,693.8 L1636.6,696.1 L1637.2,698.4 L1637.8,700.7 L1638.4,702.9 L1639.0,705.0 L1639.7,707.1 L1640.4,709.1 L1641.1,711.1 L1641.8,713.0 L1642.5,714.9 L1643.2,716.7 L1644.0,718.5 L1644.7,720.2 L1645.5,721.9 L1646.3,723.5 L1647.1,725.0 L1647.9,726.5 L1648.7,727.9 L1649.5,729.2 L1650.4,730.6 L1651.2,732.0 L1652.1,733.4 L1653.0,734.9 L1653.9,736.4 L1654.8,737.9 L1655.8,739.4 L1656.7,740.9 L1657.6,742.3 L1658.6,743.6 L1659.5,744.9 L1660.4,746.1 L1661.3,747.2 L1662.2,748.2 L1663.2,749.2 L1664.1,750.1 L1665.0,751.0 L1665.9,751.8 L1666.9,752.6 L1667.9,753.3 L1668.9,754.0 L1669.8,754.6 L1670.9,755.2 L1671.9,755.7 L1672.9,756.2 L1674.0,756.7 L1675.1,757.3 L1676.3,757.9 L1677.5,758.5 L1678.8,759.0 L1680.1,759.6 L1681.4,760.2 L1682.6,760.7 L1683.8,761.3 L1684.9,761.8 L1685.9,762.3 L1686.9,762.7 L1687.8,763.1 L1688.7,763.5 L1689.5,763.9 L1690.4,764.4 L1691.2,764.9 L1692.0,765.5 L1692.8,766.2 L1693.6,766.9 L1694.4,767.6 L1695.1,768.4 L1695.9,769.2 L1696.6,770.1 L1697.3,771.1 L1698.0,772.2 L1698.7,773.4 L1699.3,774.7 L1699.9,776.0 L1700.5,777.5 L1701.1,778.9 L1701.6,780.4 L1702.2,782.0 L1702.8,783.5 L1703.4,785.0 L1704.0,786.6 L1704.6,788.2 L1705.2,789.9 L1705.8,791.5 L1706.4,793.2 L1707.0,794.8 L1707.6,796.5 L1708.2,798.2 L1708.8,799.8 L1709.4,801.5 L1710.0,803.2 L1710.7,804.9 L1711.3,806.6 L1711.9,808.3 L1712.5,810.0 L1713.1,811.7 L1713.7,813.5 L1714.3,815.2 L1714.9,817.0 L1715.5,818.7 L1716.1,820.5 L1716.7,822.2 L1717.3,824.0 L1717.9,825.8 L1718.5,827.5 L1719.0,829.3 L1719.6,831.0 L1720.2,832.8 L1720.7,834.6 L1721.3,836.4 L1721.9,838.2 L1722.5,840.0 L1723.1,841.9 L1723.8,843.7 L1724.4,845.6 L1725.0,847.4 L1725.6,849.3 L1726.3,851.1 L1726.9,853.0 L1727.5,854.9 L1728.1,856.7 L1728.7,858.5 L1729.4,860.4 L1730.0,862.2 L1730.6,864.1 L1731.2,866.0 L1731.8,867.8 L1732.4,869.7 L1733.0,871.5 L1733.6,873.4 L1734.2,875.3 L1734.9,877.2 L1735.5,879.0 L1736.1,880.8 L1736.7,882.6 L1737.3,884.3 L1737.9,886.0 L1738.5,887.7 L1739.1,889.3 L1739.8,890.9 L1740.4,892.5 L1741.0,894.2 L1741.6,895.8 L1742.2,897.4 L1742.8,899.1 L1743.4,900.7 L1744.0,902.4 L1744.7,904.0 L1745.3,905.6 L1745.9,907.3 L1746.6,908.9 L1747.3,910.6 L1748.0,912.2 L1748.7,913.9 L1749.4,915.6 L1750.1,917.3 L1750.9,918.9 L1751.6,920.5 L1752.3,922.1 L1753.0,923.6 L1753.7,925.1 L1754.5,926.6 L1755.2,928.1 L1755.9,929.5 L1756.7,930.9 L1757.4,932.3 L1758.1,933.6 L1758.8,934.9 L1759.5,936.2 L1760.2,937.4 L1760.9,938.6 L1761.6,939.8 L1762.3,941.0 L1763.0,942.2 L1763.8,943.4 L1764.6,944.6 L1765.4,945.9 L1766.2,947.2 L1767.0,948.4 L1767.9,949.7 L1768.7,950.9 L1769.6,952.1 L1770.4,953.3 L1771.2,954.4 L1772.1,955.5 L1772.9,956.6 L1773.7,957.6 L1774.5,958.6 L1775.4,959.6 L1776.2,960.6 L1777.0,961.5 L1777.8,962.4 L1778.6,963.3 L1779.4,964.1 L1780.2,965.0 L1781.0,965.8 L1781.8,966.6 L1782.7,967.3 L1783.6,968.1 L1784.5,968.9 L1785.5,969.6 L1786.5,970.3 L1787.5,971.0 L1788.5,971.7 L1789.6,972.4 L1790.7,973.1 L1791.8,973.8 L1792.9,974.5 L1794.1,975.2 L1795.3,975.9 L1796.5,976.6 L1797.7,977.4 L1799.0,978.1 L1800.3,978.8 L1801.6,979.6 L1803.0,980.4 L1804.4,981.2 L1805.8,982.0 L1807.3,982.9 L1808.8,983.7 L1810.3,984.5 L1811.7,985.4 L1813.2,986.2 L1814.6,987.0 L1816.1,987.9 L1817.5,988.7 L1819.0,989.5 L1820.4,990.3 L1821.8,991.2 L1823.3,992.0 L1824.7,992.8 L1826.1,993.6 L1827.6,994.4 L1829.0,995.2 L1830.5,996.0 L1831.9,996.9 L1833.3,997.7 L1834.8,998.5 L1836.2,999.3 L1837.6,1000.1 L1839.1,1000.9 L1840.5,1001.8 L1842.0,1002.6 L1843.4,1003.4 L1844.8,1004.2 L1846.3,1005.1 L1847.7,1005.9 L1849.1,1006.7 L1850.6,1007.5 L1852.1,1008.4 L1853.6,1009.2 L1855.0,1010.0 L1856.4,1010.9 L1857.8,1011.7 L1859.2,1012.5 L1860.5,1013.3 L1861.8,1014.2 L1863.1,1015.0 L1864.3,1015.9 L1865.5,1016.7 L1866.7,1017.5 L1867.9,1018.3 L1869.0,1019.1 L1870.1,1019.9 L1871.3,1020.6 L1872.4,1021.4 L1873.5,1022.2 L1874.5,1022.9 L1875.5,1023.6 L1876.4,1024.2 L1877.3,1024.8 L1878.1,1025.3 L1878.8,1025.9 L1879.5,1026.3 L1880.2,1026.8 L1880.7,1027.1 L1881.2,1027.5 L1881.7,1027.8 L1882.0,1028.0" fill="none" stroke="#8C64A8" stroke-width="10" stroke-linejoin="round" stroke-linecap="butt"/></g>
<rect x="1563.4" y="270.4" width="439.0999999999999" height="187.40000000000003" fill="#fff" stroke="#000" stroke-width="4.8"/>
<rect x="1591.2" y="312.5" width="137.8" height="10.4" fill="#DE4E4E"/>
<rect x="1591.2" y="406.2" width="137.8" height="10.4" fill="#8C64A8"/>
<text class="g" x="1738.4" y="335.4">42ft cars</text>
<text class="g" x="1738.4" y="428.0">53ft cars</text>
<text class="t" x="1225" y="128.5" text-anchor="middle">Bending Stress at Quarter-Span</text>
<text class="l" x="173" y="1046.7" text-anchor="end">0</text>
<text class="l" x="173" y="853.5" text-anchor="end">1</text>
<text class="l" x="173" y="665.7" text-anchor="end">2</text>
<text class="l" x="173" y="475.5" text-anchor="end">3</text>
<text class="l" x="173" y="287.0" text-anchor="end">4</text>
<text class="l" x="236.5" y="1130.6" text-anchor="middle">0</text>
<text class="l" x="675.0" y="1130.6" text-anchor="middle">200</text>
<text class="l" x="1117.2" y="1130.6" text-anchor="middle">400</text>
<text class="l" x="1557.8" y="1130.6" text-anchor="middle">600</text>
<text class="l" x="2001.0" y="1130.6" text-anchor="middle">800</text>
<text class="l" x="1157.5" y="1199.8" text-anchor="middle">Distance traveled, ft</text>
<text class="l" style="font-size:73px" transform="translate(99,670.6) rotate(-90)" text-anchor="middle">Stress, ksi</text>
<text class="u" x="1812" y="1412.5">(m)</text>
<text class="u" x="1938" y="1439">(MPa)</text>
<rect x="241.8" y="2019.8" width="1760.8" height="4.8" fill="#DADADA"/>
<rect x="241.8" y="1832.6" width="1760.8" height="4.8" fill="#DADADA"/>
<rect x="241.8" y="1644.7" width="1760.8" height="4.8" fill="#DADADA"/>
<rect x="678.1" y="1460" width="4.8" height="749.4000000000001" fill="#DADADA"/>
<rect x="1116.6" y="1460" width="4.8" height="749.4000000000001" fill="#DADADA"/>
<rect x="1556.2" y="1460" width="4.8" height="749.4000000000001" fill="#DADADA"/>
<rect x="239.4" y="1457.6" width="4.8" height="754.2" fill="#C1C1C1"/>
<rect x="2000.2" y="1457.6" width="4.8" height="754.2" fill="#C1C1C1"/>
<rect x="239.4" y="1457.6" width="1765.6" height="4.8" fill="#C1C1C1"/>
<rect x="239.4" y="2207.0" width="1765.6" height="4.8" fill="#C1C1C1"/>
<rect x="239.4" y="1439.0" width="4.8" height="21" fill="#C1C1C1"/>
<text class="l" x="241.8" y="1402.4" text-anchor="middle">0</text>
<rect x="599.0" y="1439.0" width="4.8" height="21" fill="#C1C1C1"/>
<text class="l" x="602.5" y="1402.4" text-anchor="middle">50</text>
<rect x="958.6" y="1439.0" width="4.8" height="21" fill="#C1C1C1"/>
<text class="l" x="965.5" y="1402.4" text-anchor="middle">100</text>
<rect x="1319.2" y="1439.0" width="4.8" height="21" fill="#C1C1C1"/>
<text class="l" x="1326.4" y="1402.4" text-anchor="middle">150</text>
<rect x="1678.9" y="1439.0" width="4.8" height="21" fill="#C1C1C1"/>
<text class="l" x="1686.0" y="1402.4" text-anchor="middle">200</text>
<rect x="2002.6" y="1532.0" width="22" height="4.8" fill="#CDCDCD"/>
<text class="l" x="2062" y="1551.0">25</text>
<rect x="2002.6" y="1664.6" width="22" height="4.8" fill="#CDCDCD"/>
<text class="l" x="2062" y="1688.0">20</text>
<rect x="2002.6" y="1798.0" width="22" height="4.8" fill="#CDCDCD"/>
<text class="l" x="2062" y="1822.0">15</text>
<rect x="2002.6" y="1935.4" width="22" height="4.8" fill="#CDCDCD"/>
<text class="l" x="2062" y="1959.0">10</text>
<rect x="2002.6" y="2068.8" width="22" height="4.8" fill="#CDCDCD"/>
<text class="l" x="2062" y="2093.0">5</text>
<rect x="2002.6" y="2207.0" width="22" height="4.8" fill="#CDCDCD"/>
<text class="l" x="2062" y="2231.0">0</text>
<clipPath id="c2209"><rect x="239.4" y="1460.0" width="1765.6" height="751.8"/></clipPath>
<g clip-path="url(#c2209)"><path d="M241.5,2214.0 L241.6,2213.6 L241.8,2213.1 L241.9,2212.6 L242.1,2211.9 L242.4,2211.1 L242.8,2209.9 L243.4,2208.4 L244.2,2206.4 L245.3,2203.9 L246.6,2200.8 L248.1,2197.4 L249.8,2193.7 L251.5,2189.8 L253.2,2185.9 L254.8,2182.1 L256.3,2178.5 L257.6,2175.1 L258.9,2171.7 L260.2,2168.4 L261.4,2165.1 L262.6,2161.8 L263.8,2158.4 L265.0,2155.0 L266.2,2151.6 L267.4,2148.1 L268.7,2144.6 L269.9,2141.1 L271.1,2137.6 L272.3,2134.0 L273.5,2130.4 L274.8,2126.8 L276.0,2123.1 L277.2,2119.4 L278.5,2115.6 L279.7,2111.8 L280.9,2108.0 L282.2,2104.1 L283.4,2100.2 L284.7,2096.3 L285.9,2092.4 L287.1,2088.5 L288.4,2084.5 L289.6,2080.5 L290.8,2076.5 L292.0,2072.5 L293.2,2068.5 L294.5,2064.5 L295.7,2060.5 L296.9,2056.5 L298.2,2052.5 L299.5,2048.5 L300.7,2044.5 L302.0,2040.5 L303.2,2036.6 L304.4,2032.7 L305.6,2028.9 L306.8,2025.1 L307.9,2021.4 L309.1,2017.6 L310.2,2013.9 L311.3,2010.3 L312.4,2006.8 L313.4,2003.5 L314.4,2000.4 L315.3,1997.6 L316.1,1995.1 L316.9,1992.8 L317.6,1990.6 L318.3,1988.4 L319.1,1986.0 L319.8,1983.4 L320.5,1980.5 L321.2,1977.2 L322.0,1973.7 L322.7,1970.0 L323.5,1966.2 L324.2,1962.2 L325.0,1958.2 L325.7,1954.1 L326.4,1950.0 L327.1,1945.8 L327.8,1941.5 L328.5,1937.0 L329.2,1932.5 L329.9,1928.0 L330.5,1923.6 L331.2,1919.2 L331.9,1915.0 L332.6,1910.9 L333.3,1907.0 L334.0,1903.1 L334.6,1899.2 L335.3,1895.4 L336.0,1891.6 L336.7,1887.8 L337.4,1884.0 L338.1,1880.1 L338.8,1876.2 L339.5,1872.3 L340.2,1868.4 L340.9,1864.5 L341.6,1860.7 L342.3,1857.1 L342.9,1853.6 L343.5,1850.3 L344.1,1847.1 L344.6,1844.1 L345.1,1841.1 L345.7,1838.2 L346.2,1835.3 L346.7,1832.4 L347.2,1829.4 L347.7,1826.3 L348.2,1823.2 L348.8,1820.1 L349.3,1816.9 L349.8,1813.8 L350.3,1810.8 L350.7,1807.8 L351.2,1805.0 L351.6,1802.3 L352.1,1799.7 L352.5,1797.1 L352.9,1794.7 L353.3,1792.2 L353.7,1789.8 L354.1,1787.4 L354.5,1785.0 L354.9,1782.7 L355.3,1780.4 L355.7,1778.3 L356.0,1776.1 L356.4,1773.9 L356.9,1771.5 L357.3,1768.8 L357.8,1765.9 L358.3,1762.6 L358.9,1759.0 L359.5,1755.2 L360.1,1751.2 L360.8,1747.1 L361.4,1743.0 L362.1,1738.9 L362.7,1735.0 L363.3,1731.1 L363.9,1727.3 L364.6,1723.4 L365.2,1719.5 L365.8,1715.6 L366.5,1711.8 L367.1,1708.1 L367.7,1704.5 L368.3,1701.0 L368.9,1697.4 L369.5,1694.0 L370.2,1690.6 L370.8,1687.3 L371.4,1684.1 L372.0,1681.0 L372.6,1678.0 L373.2,1675.1 L373.8,1672.4 L374.4,1669.7 L375.0,1667.2 L375.7,1664.8 L376.3,1662.4 L376.9,1660.2 L377.5,1658.0 L378.1,1656.0 L378.7,1654.0 L379.4,1652.2 L380.0,1650.5 L380.6,1648.8 L381.3,1647.3 L381.9,1645.8 L382.5,1644.3 L383.1,1642.9 L383.7,1641.6 L384.2,1640.5 L384.8,1639.3 L385.3,1638.2 L385.9,1637.2 L386.6,1636.1 L387.4,1635.0 L388.3,1633.9 L389.2,1632.8 L390.3,1631.7 L391.3,1630.6 L392.4,1629.5 L393.5,1628.5 L394.6,1627.5 L395.6,1626.5 L396.6,1625.6 L397.6,1624.8 L398.5,1624.0 L399.5,1623.3 L400.4,1622.5 L401.3,1621.8 L402.2,1621.0 L403.0,1620.2 L403.7,1619.4 L404.4,1618.6 L405.1,1617.7 L405.7,1616.9 L406.3,1616.0 L406.8,1615.1 L407.4,1614.1 L408.0,1613.0 L408.6,1611.8 L409.2,1610.5 L409.7,1609.2 L410.3,1607.8 L410.8,1606.4 L411.4,1604.9 L411.9,1603.4 L412.5,1602.0 L413.0,1600.6 L413.6,1599.3 L414.1,1597.9 L414.6,1596.5 L415.2,1595.1 L415.7,1593.6 L416.3,1591.9 L417.0,1590.0 L417.7,1587.9 L418.5,1585.6 L419.3,1583.2 L420.2,1580.6 L421.0,1578.0 L421.9,1575.4 L422.8,1572.8 L423.6,1570.3 L424.4,1567.8 L425.2,1565.3 L426.0,1562.8 L426.9,1560.3 L427.7,1557.8 L428.5,1555.4 L429.3,1553.0 L430.1,1550.6 L430.9,1548.3 L431.7,1546.0 L432.5,1543.7 L433.3,1541.5 L434.1,1539.3 L434.9,1537.2 L435.8,1535.1 L436.7,1533.0 L437.6,1531.0 L438.6,1529.0 L439.6,1527.0 L440.6,1525.1 L441.6,1523.3 L442.7,1521.4 L443.8,1519.7 L444.9,1518.0 L446.1,1516.3 L447.3,1514.7 L448.5,1513.1 L449.8,1511.6 L451.1,1510.1 L452.3,1508.8 L453.6,1507.6 L454.8,1506.5 L456.0,1505.6 L457.1,1504.8 L458.2,1504.0 L459.4,1503.5 L460.5,1503.0 L461.6,1502.7 L462.7,1502.5 L463.8,1502.5 L464.9,1502.7 L466.1,1502.9 L467.3,1503.4 L468.4,1504.0 L469.6,1504.7 L470.7,1505.6 L471.8,1506.6 L472.9,1507.8 L473.9,1509.2 L474.9,1510.8 L475.8,1512.6 L476.7,1514.5 L477.6,1516.5 L478.5,1518.6 L479.4,1520.6 L480.3,1522.6 L481.2,1524.6 L482.1,1526.7 L483.0,1528.8 L483.9,1530.9 L484.9,1533.0 L485.8,1535.1 L486.7,1537.1 L487.7,1539.0 L488.7,1540.9 L489.7,1542.7 L490.7,1544.5 L491.8,1546.2 L492.8,1547.9 L493.9,1549.5 L494.9,1550.9 L495.9,1552.2 L496.9,1553.4 L497.8,1554.5 L498.8,1555.5 L499.7,1556.4 L500.6,1557.1 L501.6,1557.7 L502.5,1558.1 L503.5,1558.3 L506.0,1559.2 L507.5,1558.4 L509.0,1557.2 L510.5,1555.6 L512.0,1553.7 L513.5,1551.4 L515.0,1548.7 L516.5,1545.5 L518.0,1542.2 L519.5,1539.0 L521.0,1535.9 L522.5,1533.0 L524.0,1530.0 L525.5,1527.1 L527.0,1524.4 L528.5,1521.8 L530.0,1519.6 L531.5,1517.6 L533.0,1515.7 L534.5,1514.1 L536.0,1512.6 L537.5,1511.3 L539.0,1510.1 L540.5,1509.2 L542.0,1508.3 L543.5,1507.7 L545.0,1507.3 L546.5,1507.1 L548.0,1507.0 L549.5,1507.0 L551.0,1507.1 L552.5,1507.4 L554.0,1507.9 L555.5,1508.6 L557.0,1509.4 L558.5,1510.4 L560.0,1511.7 L561.5,1513.1 L563.0,1514.7 L564.5,1516.5 L566.0,1518.4 L567.5,1520.5 L569.0,1522.6 L570.5,1525.0 L572.0,1527.6 L573.5,1530.2 L575.0,1533.0 L576.5,1535.7 L578.0,1538.2 L579.5,1540.8 L581.0,1543.4 L582.5,1546.0 L584.0,1548.5 L585.5,1550.7 L587.0,1552.7 L588.5,1554.5 L590.0,1556.1 L591.5,1557.4 L593.0,1558.4 L594.5,1559.2 L596.0,1559.6 L597.5,1559.5 L599.0,1559.0 L600.5,1558.1 L602.0,1556.8 L603.5,1555.2 L605.0,1553.2 L606.5,1550.9 L608.0,1548.0 L609.5,1544.8 L611.0,1541.5 L612.5,1538.2 L614.0,1535.3 L615.5,1532.3 L617.0,1529.3 L618.5,1526.5 L620.0,1523.8 L621.5,1521.3 L623.0,1519.1 L624.5,1517.1 L626.0,1515.3 L627.5,1513.7 L629.0,1512.3 L630.5,1511.0 L632.0,1509.9 L633.5,1509.0 L635.0,1508.2 L636.5,1507.6 L638.0,1507.2 L639.5,1507.1 L641.0,1507.0 L642.5,1507.0 L644.0,1507.2 L645.5,1507.5 L647.0,1508.0 L648.5,1508.7 L650.0,1509.6 L651.5,1510.7 L653.0,1512.0 L654.5,1513.5 L656.0,1515.1 L657.5,1516.9 L659.0,1518.9 L660.5,1520.9 L662.0,1523.1 L663.5,1525.6 L665.0,1528.2 L666.5,1530.9 L668.0,1533.6 L669.5,1536.3 L671.0,1538.8 L672.5,1541.4 L674.0,1544.0 L675.5,1546.6 L677.0,1549.0 L678.5,1551.2 L680.0,1553.1 L681.5,1554.9 L683.0,1556.4 L684.5,1557.7 L686.0,1558.6 L687.5,1559.3 L689.0,1559.6 L690.5,1559.4 L692.0,1558.8 L693.5,1557.9 L695.0,1556.5 L696.5,1554.8 L698.0,1552.7 L699.5,1550.2 L701.0,1547.3 L702.5,1544.0 L704.0,1540.7 L705.5,1537.5 L707.0,1534.6 L708.5,1531.6 L710.0,1528.7 L711.5,1525.8 L713.0,1523.2 L714.5,1520.8 L716.0,1518.6 L717.5,1516.7 L719.0,1514.9 L720.5,1513.4 L722.0,1512.0 L723.5,1510.7 L725.0,1509.7 L726.5,1508.8 L728.0,1508.0 L729.5,1507.5 L731.0,1507.2 L732.5,1507.0 L734.0,1507.0 L735.5,1507.1 L737.0,1507.2 L738.5,1507.6 L740.0,1508.2 L741.5,1508.9 L743.0,1509.8 L744.5,1511.0 L746.0,1512.3 L747.5,1513.8 L749.0,1515.5 L750.5,1517.4 L752.0,1519.3 L753.5,1521.4 L755.0,1523.7 L756.5,1526.1 L758.0,1528.8 L759.5,1531.5 L761.0,1534.2 L762.5,1536.8 L764.0,1539.4 L765.5,1542.0 L767.0,1544.6 L768.5,1547.1 L770.0,1549.5 L771.5,1551.6 L773.0,1553.5 L774.5,1555.2 L776.0,1556.7 L777.5,1557.9 L779.0,1558.8 L780.5,1559.4 L782.0,1559.6 L783.5,1559.3 L785.0,1558.6 L786.5,1557.6 L788.0,1556.1 L789.5,1554.3 L791.0,1552.2 L792.5,1549.6 L794.0,1546.6 L795.5,1543.3 L797.0,1540.0 L798.5,1536.9 L800.0,1533.9 L801.5,1530.9 L803.0,1528.0 L804.5,1525.2 L806.0,1522.6 L807.5,1520.3 L809.0,1518.2 L810.5,1516.3 L812.0,1514.6 L813.5,1513.0 L815.0,1511.7 L816.5,1510.5 L818.0,1509.5 L819.5,1508.6 L821.0,1507.9 L822.5,1507.4 L824.0,1507.1 L825.5,1507.0 L827.0,1507.0 L828.5,1507.1 L830.0,1507.3 L831.5,1507.7 L833.0,1508.3 L834.5,1509.1 L836.0,1510.1 L837.5,1511.2 L839.0,1512.6 L840.5,1514.2 L842.0,1515.9 L843.5,1517.8 L845.0,1519.8 L846.5,1521.9 L848.0,1524.2 L849.5,1526.7 L851.0,1529.4 L852.5,1532.1 L854.0,1534.8 L855.5,1537.4 L857.0,1540.0 L858.5,1542.6 L860.0,1545.2 L861.5,1547.7 L863.0,1550.0 L864.5,1552.1 L866.0,1553.9 L867.5,1555.6 L869.0,1557.0 L870.5,1558.1 L872.0,1559.0 L873.5,1559.5 L875.0,1559.6 L876.5,1559.2 L878.0,1558.4 L879.5,1557.3 L881.0,1555.8 L882.5,1553.9 L884.0,1551.7 L885.5,1549.0 L887.0,1545.8 L888.5,1542.5 L890.0,1539.3 L891.5,1536.2 L893.0,1533.2 L894.5,1530.3 L896.0,1527.4 L897.5,1524.6 L899.0,1522.1 L900.5,1519.8 L902.0,1517.7 L903.5,1515.9 L905.0,1514.2 L906.5,1512.7 L908.0,1511.4 L909.5,1510.2 L911.0,1509.2 L912.5,1508.4 L914.0,1507.8 L915.5,1507.3 L917.0,1507.1 L918.5,1507.0 L920.0,1507.0 L921.5,1507.1 L923.0,1507.4 L924.5,1507.8 L926.0,1508.5 L927.5,1509.3 L929.0,1510.3 L930.5,1511.5 L932.0,1513.0 L933.5,1514.6 L935.0,1516.3 L936.5,1518.2 L938.0,1520.3 L939.5,1522.4 L941.0,1524.8 L942.5,1527.3 L944.0,1530.0 L945.5,1532.7 L947.0,1535.4 L948.5,1538.0 L950.0,1540.6 L951.5,1543.2 L953.0,1545.8 L954.5,1548.2 L956.0,1550.5 L957.5,1552.5 L959.0,1554.3 L960.5,1555.9 L962.0,1557.3 L963.5,1558.3 L965.0,1559.1 L966.5,1559.6 L968.0,1559.5 L969.5,1559.1 L971.0,1558.2 L972.5,1557.0 L974.0,1555.4 L975.5,1553.4 L977.0,1551.1 L978.5,1548.3 L980.0,1545.1 L981.5,1541.8 L983.0,1538.5 L984.5,1535.5 L986.0,1532.6 L987.5,1529.6 L989.0,1526.7 L990.5,1524.0 L992.0,1521.5 L993.5,1519.3 L995.0,1517.3 L996.5,1515.5 L998.0,1513.9 L999.5,1512.4 L1001.0,1511.1 L1002.5,1510.0 L1004.0,1509.0 L1005.5,1508.3 L1007.0,1507.7 L1008.5,1507.3 L1010.0,1507.1 L1011.5,1507.0 L1013.0,1507.0 L1014.5,1507.2 L1016.0,1507.5 L1017.5,1508.0 L1019.0,1508.7 L1020.5,1509.5 L1022.0,1510.6 L1023.5,1511.8 L1025.0,1513.3 L1026.5,1515.0 L1028.0,1516.8 L1029.5,1518.7 L1031.0,1520.7 L1032.5,1522.9 L1034.0,1525.3 L1035.5,1527.9 L1037.0,1530.6 L1038.5,1533.3 L1040.0,1536.0 L1041.5,1538.6 L1043.0,1541.1 L1044.5,1543.8 L1046.0,1546.3 L1047.5,1548.8 L1049.0,1551.0 L1050.5,1552.9 L1052.0,1554.7 L1053.5,1556.3 L1055.0,1557.5 L1056.5,1558.5 L1058.0,1559.3 L1059.5,1559.6 L1061.0,1559.5 L1062.5,1558.9 L1064.0,1558.0 L1065.5,1556.6 L1067.0,1554.9 L1068.5,1552.9 L1070.0,1550.5 L1071.5,1547.6 L1073.0,1544.4 L1074.5,1541.0 L1076.0,1537.8 L1077.5,1534.9 L1079.0,1531.9 L1080.5,1528.9 L1082.0,1526.1 L1083.5,1523.4 L1085.0,1521.0 L1086.5,1518.8 L1088.0,1516.9 L1089.5,1515.1 L1091.0,1513.5 L1092.5,1512.1 L1094.0,1510.8 L1095.5,1509.8 L1097.0,1508.8 L1098.5,1508.1 L1100.0,1507.5 L1101.5,1507.2 L1103.0,1507.0 L1104.5,1507.0 L1106.0,1507.0 L1107.5,1507.2 L1109.0,1507.6 L1110.5,1508.1 L1112.0,1508.8 L1113.5,1509.8 L1115.0,1510.8 L1116.5,1512.2 L1118.0,1513.7 L1119.5,1515.3 L1121.0,1517.2 L1122.5,1519.1 L1124.0,1521.2 L1125.5,1523.5 L1127.0,1525.9 L1128.5,1528.5 L1130.0,1531.2 L1131.5,1533.9 L1133.0,1536.6 L1134.5,1539.2 L1136.0,1541.7 L1137.5,1544.4 L1139.0,1546.9 L1140.5,1549.3 L1142.0,1551.5 L1143.5,1553.3 L1145.0,1555.1 L1146.5,1556.6 L1148.0,1557.8 L1149.5,1558.7 L1151.0,1559.4 L1152.5,1559.6 L1154.0,1559.4 L1155.5,1558.7 L1157.0,1557.7 L1158.5,1556.3 L1160.0,1554.5 L1161.5,1552.4 L1163.0,1549.9 L1164.5,1546.9 L1166.0,1543.6 L1167.5,1540.3 L1169.0,1537.1 L1170.5,1534.2 L1172.0,1531.2 L1173.5,1528.3 L1175.0,1525.5 L1176.5,1522.8 L1178.0,1520.5 L1179.5,1518.4 L1181.0,1516.5 L1182.5,1514.7 L1184.0,1513.2 L1185.5,1511.8 L1187.0,1510.6 L1188.5,1509.5 L1190.0,1508.7 L1191.5,1508.0 L1193.0,1507.4 L1194.5,1507.2 L1196.0,1507.0 L1197.5,1507.0 L1199.0,1507.1 L1200.5,1507.3 L1202.0,1507.7 L1203.5,1508.3 L1205.0,1509.0 L1206.5,1510.0 L1208.0,1511.1 L1209.5,1512.5 L1211.0,1514.0 L1212.5,1515.7 L1214.0,1517.6 L1215.5,1519.6 L1217.0,1521.7 L1218.5,1524.0 L1220.0,1526.5 L1221.5,1529.1 L1223.0,1531.8 L1224.5,1534.6 L1226.0,1537.2 L1227.5,1539.7 L1229.0,1542.3 L1230.5,1544.9 L1232.0,1547.5 L1233.5,1549.8 L1235.0,1551.9 L1236.5,1553.8 L1238.0,1555.4 L1239.5,1556.9 L1241.0,1558.0 L1242.5,1558.9 L1244.0,1559.5 L1245.5,1559.6 L1247.0,1559.3 L1248.5,1558.5 L1250.0,1557.4 L1251.5,1555.9 L1253.0,1554.1 L1254.5,1551.9 L1256.0,1549.2 L1257.5,1546.1 L1259.0,1542.9 L1260.5,1539.6 L1262.0,1536.5 L1263.5,1533.5 L1265.0,1530.5 L1266.5,1527.6 L1268.0,1524.8 L1269.5,1522.3 L1271.0,1520.0 L1272.5,1517.9 L1274.0,1516.0 L1275.5,1514.4 L1277.0,1512.8 L1278.5,1511.5 L1280.0,1510.3 L1281.5,1509.3 L1283.0,1508.5 L1284.5,1507.8 L1286.0,1507.4 L1287.5,1507.1 L1289.0,1507.0 L1290.5,1507.0 L1292.0,1507.1 L1293.5,1507.4 L1295.0,1507.8 L1295.0,1507.8 L1295.7,1507.9 L1296.4,1508.0 L1297.0,1508.0 L1297.7,1508.1 L1298.3,1508.2 L1299.1,1508.5 L1299.9,1508.9 L1300.8,1509.5 L1301.9,1510.3 L1303.0,1511.3 L1304.3,1512.4 L1305.6,1513.6 L1306.9,1514.9 L1308.2,1516.3 L1309.5,1517.8 L1310.7,1519.3 L1311.8,1520.9 L1312.9,1522.6 L1313.9,1524.5 L1314.9,1526.4 L1315.9,1528.3 L1316.9,1530.3 L1317.9,1532.2 L1318.9,1534.1 L1319.9,1536.0 L1321.0,1537.9 L1322.0,1539.7 L1323.0,1541.6 L1324.0,1543.5 L1325.0,1545.4 L1326.1,1547.2 L1327.1,1548.9 L1328.1,1550.6 L1329.1,1552.4 L1330.2,1554.1 L1331.2,1555.8 L1332.2,1557.5 L1333.2,1559.0 L1334.3,1560.3 L1335.3,1561.5 L1336.3,1562.5 L1337.3,1563.4 L1338.3,1564.1 L1339.3,1564.7 L1340.4,1565.2 L1341.4,1565.6 L1342.5,1565.9 L1343.6,1566.0 L1344.8,1566.0 L1346.0,1565.8 L1347.2,1565.4 L1348.5,1565.0 L1349.8,1564.4 L1351.0,1563.9 L1352.2,1563.4 L1353.4,1563.0 L1354.5,1562.6 L1355.6,1562.1 L1356.6,1561.7 L1357.6,1561.2 L1358.6,1560.8 L1359.6,1560.5 L1360.6,1560.3 L1361.6,1560.3 L1362.6,1560.4 L1363.7,1560.6 L1364.8,1560.9 L1365.9,1561.4 L1366.9,1561.9 L1367.9,1562.6 L1368.9,1563.5 L1369.9,1564.5 L1370.8,1565.8 L1371.7,1567.3 L1372.5,1568.9 L1373.4,1570.7 L1374.2,1572.6 L1374.9,1574.6 L1375.7,1576.6 L1376.4,1578.5 L1377.1,1580.4 L1377.8,1582.4 L1378.4,1584.5 L1379.0,1586.5 L1379.6,1588.6 L1380.2,1590.7 L1380.8,1592.8 L1381.4,1594.9 L1382.0,1597.0 L1382.7,1599.0 L1383.3,1601.1 L1383.9,1603.2 L1384.5,1605.2 L1385.1,1607.3 L1385.7,1609.3 L1386.3,1611.4 L1386.9,1613.5 L1387.4,1615.5 L1387.9,1617.6 L1388.4,1619.6 L1388.9,1621.6 L1389.4,1623.7 L1389.9,1625.7 L1390.4,1627.8 L1390.9,1629.8 L1391.4,1631.8 L1391.9,1633.8 L1392.5,1635.8 L1393.0,1637.9 L1393.5,1639.9 L1394.0,1642.1 L1394.5,1644.3 L1395.0,1646.6 L1395.5,1648.9 L1396.0,1651.3 L1396.5,1653.7 L1397.0,1656.2 L1397.5,1658.8 L1398.0,1661.4 L1398.6,1664.0 L1399.2,1666.7 L1399.8,1669.5 L1400.4,1672.4 L1401.0,1675.3 L1401.7,1678.2 L1402.3,1681.2 L1403.0,1684.1 L1403.6,1687.0 L1404.2,1689.9 L1404.8,1692.8 L1405.4,1695.6 L1406.1,1698.5 L1406.7,1701.4 L1407.3,1704.2 L1407.9,1707.1 L1408.5,1710.0 L1409.1,1712.9 L1409.7,1715.8 L1410.3,1718.6 L1410.9,1721.5 L1411.6,1724.4 L1412.2,1727.2 L1412.8,1730.1 L1413.4,1733.0 L1414.0,1735.9 L1414.6,1738.7 L1415.3,1741.6 L1415.9,1744.5 L1416.5,1747.3 L1417.1,1750.2 L1417.8,1753.1 L1418.4,1756.0 L1419.0,1758.9 L1419.6,1761.6 L1420.2,1764.4 L1420.8,1767.2 L1421.4,1770.1 L1422.0,1773.0 L1422.7,1776.2 L1423.5,1779.5 L1424.4,1783.1 L1425.3,1786.9 L1426.3,1790.9 L1427.4,1795.0 L1428.4,1799.1 L1429.5,1803.3 L1430.5,1807.4 L1431.5,1811.4 L1432.4,1815.3 L1433.3,1819.3 L1434.2,1823.2 L1435.1,1827.1 L1435.9,1831.0 L1436.8,1834.9 L1437.7,1838.8 L1438.7,1842.7 L1439.7,1846.6 L1440.7,1850.5 L1441.8,1854.5 L1442.8,1858.4 L1443.9,1862.3 L1445.0,1866.2 L1446.1,1870.2 L1447.2,1874.1 L1448.3,1878.1 L1449.4,1882.1 L1450.6,1886.1 L1451.7,1890.1 L1452.9,1894.1 L1454.0,1898.0 L1455.1,1901.8 L1456.2,1905.5 L1457.2,1909.1 L1458.3,1912.6 L1459.3,1916.0 L1460.2,1919.4 L1461.2,1922.7 L1462.2,1925.9 L1463.1,1929.2 L1464.0,1932.4 L1464.9,1935.6 L1465.8,1938.7 L1466.6,1941.8 L1467.5,1944.8 L1468.3,1947.9 L1469.1,1950.9 L1469.9,1953.9 L1470.7,1957.0 L1471.5,1960.1 L1472.2,1963.2 L1472.9,1966.3 L1473.6,1969.4 L1474.2,1972.4 L1474.9,1975.5 L1475.6,1978.6 L1476.3,1981.7 L1477.0,1984.8 L1477.7,1987.9 L1478.3,1990.9 L1479.0,1994.0 L1479.7,1997.1 L1480.4,2000.2 L1481.1,2003.2 L1481.9,2006.3 L1482.7,2009.4 L1483.5,2012.5 L1484.4,2015.6 L1485.3,2018.7 L1486.2,2021.8 L1487.1,2024.9 L1487.9,2027.9 L1488.7,2030.9 L1489.4,2033.8 L1490.2,2036.7 L1490.8,2039.5 L1491.5,2042.3 L1492.2,2045.1 L1492.9,2047.8 L1493.6,2050.6 L1494.3,2053.4 L1495.1,2056.2 L1495.9,2059.1 L1496.7,2061.9 L1497.6,2064.8 L1498.4,2067.6 L1499.3,2070.4 L1500.2,2073.1 L1501.0,2075.8 L1501.8,2078.4 L1502.7,2081.0 L1503.5,2083.6 L1504.3,2086.1 L1505.2,2088.6 L1506.0,2091.1 L1506.9,2093.5 L1507.7,2095.9 L1508.5,2098.3 L1509.3,2100.6 L1510.2,2102.9 L1511.0,2105.2 L1511.8,2107.4 L1512.6,2109.6 L1513.5,2111.8 L1514.4,2113.9 L1515.3,2116.0 L1516.2,2118.0 L1517.2,2120.0 L1518.1,2122.0 L1519.1,2123.9 L1520.1,2125.8 L1521.2,2127.6 L1522.3,2129.5 L1523.4,2131.3 L1524.6,2133.1 L1525.9,2134.9 L1527.1,2136.6 L1528.4,2138.4 L1529.7,2140.1 L1531.1,2141.8 L1532.4,2143.5 L1533.7,2145.2 L1535.1,2146.9 L1536.4,2148.5 L1537.8,2150.1 L1539.2,2151.8 L1540.6,2153.4 L1542.1,2155.1 L1543.6,2156.8 L1545.2,2158.5 L1546.8,2160.3 L1548.5,2162.0 L1550.2,2163.8 L1551.9,2165.6 L1553.6,2167.4 L1555.3,2169.2 L1557.0,2171.0 L1558.7,2172.8 L1560.4,2174.7 L1562.1,2176.5 L1563.8,2178.4 L1565.5,2180.3 L1567.2,2182.1 L1568.8,2183.9 L1570.4,2185.6 L1571.9,2187.3 L1573.4,2188.9 L1574.9,2190.5 L1576.3,2192.1 L1577.7,2193.6 L1579.1,2195.1 L1580.4,2196.5 L1581.7,2197.9 L1583.0,2199.2 L1584.2,2200.4 L1585.4,2201.6 L1586.5,2202.7 L1587.6,2203.8 L1588.7,2204.8 L1589.7,2205.8 L1590.6,2206.8 L1591.5,2207.7 L1592.3,2208.7 L1593.1,2209.6 L1593.9,2210.5 L1594.5,2211.2 L1595.1,2211.9 L1595.6,2212.5 L1596.0,2213.0" fill="none" stroke="#DE4E4E" stroke-width="10" stroke-linejoin="round" stroke-linecap="butt"/>
<path d="M241.5,2214.0 L241.6,2213.6 L241.8,2213.1 L241.9,2212.6 L242.1,2211.9 L242.4,2211.1 L242.8,2209.9 L243.4,2208.4 L244.2,2206.4 L245.3,2203.9 L246.6,2200.8 L248.1,2197.4 L249.8,2193.7 L251.5,2189.8 L253.2,2185.9 L254.8,2182.1 L256.3,2178.5 L257.6,2175.1 L258.9,2171.7 L260.2,2168.4 L261.4,2165.1 L262.6,2161.8 L263.8,2158.4 L265.0,2155.0 L266.2,2151.6 L267.4,2148.1 L268.7,2144.6 L269.9,2141.1 L271.1,2137.6 L272.3,2134.0 L273.5,2130.4 L274.8,2126.8 L276.0,2123.1 L277.2,2119.4 L278.5,2115.6 L279.7,2111.8 L280.9,2108.0 L282.2,2104.1 L283.4,2100.2 L284.7,2096.3 L285.9,2092.4 L287.1,2088.5 L288.4,2084.5 L289.6,2080.5 L290.8,2076.5 L292.0,2072.5 L293.2,2068.5 L294.5,2064.5 L295.7,2060.5 L296.9,2056.5 L298.2,2052.5 L299.5,2048.5 L300.7,2044.5 L302.0,2040.5 L303.2,2036.6 L304.4,2032.7 L305.6,2028.9 L306.8,2025.1 L307.9,2021.4 L309.1,2017.6 L310.2,2013.9 L311.3,2010.3 L312.4,2006.8 L313.4,2003.5 L314.4,2000.4 L315.3,1997.4 L316.2,1994.6 L317.0,1991.8 L317.8,1989.2 L318.6,1986.8 L319.3,1984.5 L319.9,1982.4 L320.5,1980.5 L321.0,1979.0 L321.3,1978.0 L321.5,1977.3 L321.6,1976.7 L321.8,1976.1 L322.1,1975.2 L322.5,1973.8 L323.1,1971.9 L323.9,1969.3 L324.9,1966.2 L326.0,1962.7 L327.2,1958.9 L328.4,1955.0 L329.6,1951.0 L330.8,1947.1 L331.9,1943.4 L332.9,1939.8 L333.9,1936.3 L334.9,1932.7 L335.9,1929.2 L336.8,1925.6 L337.8,1922.0 L338.7,1918.5 L339.6,1914.9 L340.5,1911.3 L341.3,1907.8 L342.2,1904.2 L343.0,1900.7 L343.8,1897.1 L344.6,1893.5 L345.4,1890.0 L346.2,1886.4 L347.0,1882.8 L347.8,1879.3 L348.6,1875.7 L349.4,1872.2 L350.3,1868.6 L351.1,1865.0 L351.9,1861.5 L352.7,1857.9 L353.5,1854.3 L354.4,1850.7 L355.2,1847.0 L356.1,1843.4 L356.9,1839.8 L357.7,1836.2 L358.5,1832.8 L359.3,1829.4 L360.1,1826.1 L360.8,1822.9 L361.6,1819.7 L362.3,1816.5 L363.0,1813.5 L363.7,1810.6 L364.4,1807.7 L365.0,1805.0 L365.6,1802.4 L366.2,1800.0 L366.8,1797.6 L367.4,1795.4 L367.9,1793.2 L368.4,1791.1 L369.0,1789.1 L369.5,1787.0 L370.0,1785.0 L370.5,1783.0 L371.0,1781.1 L371.5,1779.2 L372.0,1777.4 L372.5,1775.6 L373.0,1773.8 L373.5,1772.0 L374.0,1770.2 L374.5,1768.5 L375.0,1766.8 L375.4,1765.1 L375.9,1763.5 L376.4,1761.8 L377.0,1760.2 L377.5,1758.5 L378.1,1756.8 L378.6,1755.2 L379.2,1753.5 L379.8,1751.8 L380.5,1750.2 L381.1,1748.6 L381.8,1747.0 L382.5,1745.5 L383.2,1744.1 L383.9,1742.7 L384.7,1741.4 L385.4,1740.1 L386.2,1738.8 L387.1,1737.5 L388.0,1736.3 L389.0,1735.0 L390.1,1733.7 L391.2,1732.4 L392.5,1731.1 L393.7,1729.9 L395.0,1728.6 L396.3,1727.3 L397.6,1726.1 L398.9,1724.8 L400.1,1723.5 L401.4,1722.3 L402.6,1721.1 L403.9,1719.8 L405.1,1718.6 L406.3,1717.4 L407.6,1716.1 L408.8,1714.9 L410.0,1713.7 L411.3,1712.4 L412.5,1711.2 L413.7,1710.0 L414.9,1708.8 L416.1,1707.6 L417.4,1706.3 L418.6,1705.1 L419.8,1703.9 L421.1,1702.6 L422.3,1701.4 L423.5,1700.2 L424.8,1698.9 L426.0,1697.7 L427.3,1696.4 L428.5,1695.2 L429.7,1694.0 L431.0,1692.7 L432.2,1691.5 L433.5,1690.3 L434.7,1689.1 L435.9,1687.9 L437.2,1686.6 L438.4,1685.4 L439.6,1684.2 L440.9,1682.9 L442.1,1681.7 L443.3,1680.4 L444.5,1679.2 L445.7,1677.9 L447.0,1676.7 L448.2,1675.5 L449.4,1674.3 L450.7,1673.1 L452.0,1671.9 L453.2,1670.7 L454.5,1669.5 L455.7,1668.4 L456.9,1667.4 L458.1,1666.4 L459.2,1665.5 L460.3,1664.6 L461.3,1663.8 L462.4,1663.1 L463.4,1662.4 L464.3,1661.8 L465.3,1661.2 L466.3,1660.7 L467.3,1660.3 L468.2,1659.8 L469.2,1659.5 L470.1,1659.2 L471.0,1659.0 L471.9,1658.9 L472.8,1658.9 L473.7,1659.0 L474.6,1659.3 L475.4,1659.8 L476.2,1660.5 L477.0,1661.2 L477.8,1662.0 L478.6,1662.7 L479.4,1663.4 L480.3,1664.0 L481.2,1664.5 L482.1,1665.0 L483.0,1665.5 L483.9,1665.9 L484.8,1666.3 L485.8,1666.7 L486.7,1667.0 L487.7,1667.3 L488.6,1667.5 L489.5,1667.7 L490.4,1667.8 L491.3,1667.9 L492.3,1668.0 L493.4,1668.1 L494.6,1668.1 L496.0,1668.2 L504.0,1667.8 L506.0,1668.0 L508.0,1668.2 L510.0,1668.4 L512.0,1668.6 L514.0,1668.9 L516.0,1669.2 L518.0,1669.5 L520.0,1669.7 L522.0,1670.0 L524.0,1670.3 L526.0,1670.6 L528.0,1670.9 L530.0,1671.2 L532.0,1671.5 L534.0,1671.8 L536.0,1672.0 L538.0,1672.2 L540.0,1672.4 L542.0,1672.6 L544.0,1672.7 L546.0,1672.8 L548.0,1672.9 L550.0,1673.0 L552.0,1673.0 L554.0,1673.0 L556.0,1672.9 L558.0,1672.9 L560.0,1672.8 L562.0,1672.6 L564.0,1672.5 L566.0,1672.3 L568.0,1672.1 L570.0,1671.8 L572.0,1671.6 L574.0,1671.3 L576.0,1671.0 L578.0,1670.7 L580.0,1670.5 L582.0,1670.2 L584.0,1669.9 L586.0,1669.6 L588.0,1669.3 L590.0,1669.0 L592.0,1668.7 L594.0,1668.5 L596.0,1668.3 L598.0,1668.1 L600.0,1667.9 L602.0,1667.7 L604.0,1667.6 L606.0,1667.5 L608.0,1667.4 L610.0,1667.4 L612.0,1667.4 L614.0,1667.4 L616.0,1667.5 L618.0,1667.6 L620.0,1667.7 L622.0,1667.9 L624.0,1668.1 L626.0,1668.3 L628.0,1668.5 L630.0,1668.7 L632.0,1669.0 L634.0,1669.3 L636.0,1669.6 L638.0,1669.9 L640.0,1670.2 L642.0,1670.5 L644.0,1670.7 L646.0,1671.0 L648.0,1671.3 L650.0,1671.6 L652.0,1671.8 L654.0,1672.1 L656.0,1672.3 L658.0,1672.5 L660.0,1672.6 L662.0,1672.8 L664.0,1672.9 L666.0,1672.9 L668.0,1673.0 L670.0,1673.0 L672.0,1673.0 L674.0,1672.9 L676.0,1672.8 L678.0,1672.7 L680.0,1672.6 L682.0,1672.4 L684.0,1672.2 L686.0,1672.0 L688.0,1671.8 L690.0,1671.5 L692.0,1671.2 L694.0,1670.9 L696.0,1670.6 L698.0,1670.3 L700.0,1670.0 L702.0,1669.7 L704.0,1669.5 L706.0,1669.2 L708.0,1668.9 L710.0,1668.6 L712.0,1668.4 L714.0,1668.2 L716.0,1668.0 L718.0,1667.8 L720.0,1667.7 L722.0,1667.6 L724.0,1667.5 L726.0,1667.4 L728.0,1667.4 L730.0,1667.4 L732.0,1667.5 L734.0,1667.5 L736.0,1667.6 L738.0,1667.8 L740.0,1667.9 L742.0,1668.1 L744.0,1668.3 L746.0,1668.6 L748.0,1668.8 L750.0,1669.1 L752.0,1669.4 L754.0,1669.7 L756.0,1670.0 L758.0,1670.3 L760.0,1670.6 L762.0,1670.9 L764.0,1671.1 L766.0,1671.4 L768.0,1671.7 L770.0,1671.9 L772.0,1672.1 L774.0,1672.4 L776.0,1672.5 L778.0,1672.7 L780.0,1672.8 L782.0,1672.9 L784.0,1673.0 L786.0,1673.0 L788.0,1673.0 L790.0,1673.0 L792.0,1672.9 L794.0,1672.8 L796.0,1672.7 L798.0,1672.5 L800.0,1672.3 L802.0,1672.1 L804.0,1671.9 L806.0,1671.7 L808.0,1671.4 L810.0,1671.1 L812.0,1670.8 L814.0,1670.5 L816.0,1670.2 L818.0,1669.9 L820.0,1669.6 L822.0,1669.4 L824.0,1669.1 L826.0,1668.8 L828.0,1668.6 L830.0,1668.3 L832.0,1668.1 L834.0,1667.9 L836.0,1667.8 L838.0,1667.6 L840.0,1667.5 L842.0,1667.5 L844.0,1667.4 L846.0,1667.4 L848.0,1667.4 L850.0,1667.5 L852.0,1667.6 L854.0,1667.7 L856.0,1667.8 L858.0,1668.0 L860.0,1668.2 L862.0,1668.4 L864.0,1668.7 L866.0,1668.9 L868.0,1669.2 L870.0,1669.5 L872.0,1669.8 L874.0,1670.1 L876.0,1670.4 L878.0,1670.7 L880.0,1671.0 L882.0,1671.2 L884.0,1671.5 L886.0,1671.8 L888.0,1672.0 L890.0,1672.2 L892.0,1672.4 L894.0,1672.6 L896.0,1672.7 L898.0,1672.8 L900.0,1672.9 L902.0,1673.0 L904.0,1673.0 L906.0,1673.0 L908.0,1672.9 L910.0,1672.9 L912.0,1672.8 L914.0,1672.6 L916.0,1672.5 L918.0,1672.3 L920.0,1672.1 L922.0,1671.8 L924.0,1671.6 L926.0,1671.3 L928.0,1671.0 L930.0,1670.7 L932.0,1670.4 L934.0,1670.1 L936.0,1669.8 L938.0,1669.5 L940.0,1669.3 L942.0,1669.0 L944.0,1668.7 L946.0,1668.5 L948.0,1668.2 L950.0,1668.0 L952.0,1667.9 L954.0,1667.7 L956.0,1667.6 L958.0,1667.5 L960.0,1667.4 L962.0,1667.4 L964.0,1667.4 L966.0,1667.4 L968.0,1667.5 L970.0,1667.6 L972.0,1667.7 L974.0,1667.9 L976.0,1668.1 L978.0,1668.3 L980.0,1668.5 L982.0,1668.7 L984.0,1669.0 L986.0,1669.3 L988.0,1669.6 L990.0,1669.9 L992.0,1670.2 L994.0,1670.5 L996.0,1670.8 L998.0,1671.1 L1000.0,1671.3 L1002.0,1671.6 L1004.0,1671.9 L1006.0,1672.1 L1008.0,1672.3 L1010.0,1672.5 L1012.0,1672.6 L1014.0,1672.8 L1016.0,1672.9 L1018.0,1672.9 L1020.0,1673.0 L1022.0,1673.0 L1024.0,1673.0 L1026.0,1672.9 L1028.0,1672.8 L1030.0,1672.7 L1032.0,1672.6 L1034.0,1672.4 L1036.0,1672.2 L1038.0,1672.0 L1040.0,1671.7 L1042.0,1671.5 L1044.0,1671.2 L1046.0,1670.9 L1048.0,1670.6 L1050.0,1670.3 L1052.0,1670.0 L1054.0,1669.7 L1056.0,1669.4 L1058.0,1669.2 L1060.0,1668.9 L1062.0,1668.6 L1064.0,1668.4 L1066.0,1668.2 L1068.0,1668.0 L1070.0,1667.8 L1072.0,1667.7 L1074.0,1667.6 L1076.0,1667.5 L1078.0,1667.4 L1080.0,1667.4 L1082.0,1667.4 L1084.0,1667.5 L1086.0,1667.5 L1088.0,1667.6 L1090.0,1667.8 L1092.0,1667.9 L1094.0,1668.1 L1096.0,1668.3 L1098.0,1668.6 L1100.0,1668.8 L1102.0,1669.1 L1104.0,1669.4 L1106.0,1669.7 L1108.0,1670.0 L1110.0,1670.3 L1112.0,1670.6 L1114.0,1670.9 L1116.0,1671.2 L1118.0,1671.4 L1120.0,1671.7 L1122.0,1671.9 L1124.0,1672.2 L1126.0,1672.4 L1128.0,1672.5 L1130.0,1672.7 L1132.0,1672.8 L1134.0,1672.9 L1136.0,1673.0 L1138.0,1673.0 L1140.0,1673.0 L1142.0,1673.0 L1144.0,1672.9 L1146.0,1672.8 L1148.0,1672.7 L1150.0,1672.5 L1152.0,1672.3 L1154.0,1672.1 L1156.0,1671.9 L1158.0,1671.7 L1160.0,1671.4 L1162.0,1671.1 L1164.0,1670.8 L1166.0,1670.5 L1168.0,1670.2 L1170.0,1669.9 L1172.0,1669.6 L1174.0,1669.3 L1176.0,1669.1 L1178.0,1668.8 L1180.0,1668.5 L1182.0,1668.3 L1184.0,1668.1 L1186.0,1667.9 L1188.0,1667.8 L1190.0,1667.6 L1192.0,1667.5 L1194.0,1667.4 L1196.0,1667.4 L1198.0,1667.4 L1200.0,1667.4 L1202.0,1667.5 L1204.0,1667.6 L1206.0,1667.7 L1208.0,1667.8 L1210.0,1668.0 L1212.0,1668.2 L1214.0,1668.4 L1216.0,1668.7 L1218.0,1668.9 L1220.0,1669.2 L1222.0,1669.5 L1224.0,1669.8 L1226.0,1670.1 L1228.0,1670.4 L1230.0,1670.7 L1232.0,1671.0 L1234.0,1671.2 L1236.0,1671.5 L1238.0,1671.8 L1240.0,1672.0 L1242.0,1672.2 L1244.0,1672.4 L1246.0,1672.6 L1248.0,1672.7 L1250.0,1672.8 L1252.0,1672.9 L1254.0,1673.0 L1256.0,1673.0 L1258.0,1673.0 L1260.0,1672.9 L1262.0,1672.9 L1264.0,1672.8 L1266.0,1672.6 L1268.0,1672.5 L1270.0,1672.3 L1272.0,1672.1 L1274.0,1671.8 L1276.0,1671.6 L1278.0,1671.3 L1280.0,1671.0 L1282.0,1670.7 L1284.0,1670.4 L1286.0,1670.1 L1288.0,1669.8 L1290.0,1669.5 L1292.0,1669.2 L1294.0,1669.0 L1296.0,1668.7 L1298.0,1668.5 L1300.0,1668.2 L1302.0,1668.0 L1304.0,1667.9 L1306.0,1667.7 L1308.0,1667.6 L1310.0,1667.5 L1312.0,1667.4 L1314.0,1667.4 L1316.0,1667.4 L1318.0,1667.4 L1320.0,1667.5 L1322.0,1667.6 L1324.0,1667.7 L1326.0,1667.9 L1328.0,1668.1 L1330.0,1668.3 L1332.0,1668.5 L1334.0,1668.8 L1336.0,1669.0 L1338.0,1669.3 L1340.0,1669.6 L1342.0,1669.9 L1344.0,1670.2 L1346.0,1670.5 L1348.0,1670.8 L1350.0,1671.1 L1352.0,1671.3 L1354.0,1671.6 L1356.0,1671.9 L1358.0,1672.1 L1360.0,1672.3 L1362.0,1672.5 L1364.0,1672.6 L1366.0,1672.8 L1368.0,1672.9 L1370.0,1673.0 L1372.0,1673.0 L1374.0,1673.0 L1376.0,1673.0 L1378.0,1672.9 L1380.0,1672.8 L1382.0,1672.7 L1384.0,1672.6 L1386.0,1672.4 L1388.0,1672.2 L1390.0,1672.0 L1392.0,1671.7 L1394.0,1671.5 L1396.0,1671.2 L1398.0,1670.9 L1400.0,1670.6 L1402.0,1670.3 L1404.0,1670.0 L1406.0,1669.7 L1408.0,1669.4 L1410.0,1669.1 L1412.0,1668.9 L1414.0,1668.6 L1416.0,1668.4 L1418.0,1668.2 L1420.0,1668.0 L1422.0,1667.8 L1424.0,1667.7 L1426.0,1667.5 L1428.0,1667.5 L1430.0,1667.4 L1432.0,1667.4 L1434.0,1667.4 L1436.0,1667.5 L1438.0,1667.5 L1440.0,1667.6 L1442.0,1667.8 L1444.0,1667.9 L1446.0,1668.1 L1448.0,1668.4 L1450.0,1668.6 L1452.0,1668.8 L1454.0,1669.1 L1456.0,1669.4 L1458.0,1669.7 L1460.0,1670.0 L1462.0,1670.3 L1464.0,1670.6 L1466.0,1670.9 L1468.0,1671.2 L1470.0,1671.4 L1472.0,1671.7 L1474.0,1671.9 L1476.0,1672.2 L1478.0,1672.4 L1480.0,1672.5 L1482.0,1672.7 L1484.0,1672.8 L1486.0,1672.9 L1488.0,1673.0 L1490.0,1673.0 L1492.0,1673.0 L1494.0,1673.0 L1496.0,1672.9 L1498.0,1672.8 L1500.0,1672.7 L1502.0,1672.5 L1504.0,1672.3 L1506.0,1672.1 L1508.0,1671.9 L1510.0,1671.6 L1512.0,1671.4 L1514.0,1671.1 L1516.0,1670.8 L1518.0,1670.5 L1520.0,1670.2 L1522.0,1669.9 L1524.0,1669.6 L1526.0,1669.3 L1528.0,1669.0 L1530.0,1668.8 L1532.0,1668.5 L1534.0,1668.3 L1536.0,1668.1 L1538.0,1667.9 L1540.0,1667.7 L1542.0,1667.6 L1544.0,1667.5 L1546.0,1667.4 L1548.0,1667.4 L1550.0,1667.4 L1552.0,1667.4 L1554.0,1667.5 L1556.0,1667.6 L1558.0,1667.7 L1560.0,1667.8 L1562.0,1668.0 L1564.0,1668.2 L1566.0,1668.4 L1568.0,1668.7 L1570.0,1668.9 L1572.0,1669.2 L1574.0,1669.5 L1576.0,1669.8 L1578.0,1670.1 L1580.0,1670.4 L1582.0,1670.7 L1584.0,1671.0 L1586.0,1671.3 L1588.0,1671.5 L1590.0,1671.8 L1592.0,1672.0 L1594.0,1672.2 L1596.0,1672.4 L1598.0,1672.6 L1600.0,1672.7 L1602.0,1672.9 L1604.0,1672.9 L1606.0,1673.0 L1608.0,1673.0 L1610.0,1673.0 L1612.0,1672.9 L1614.0,1672.9 L1616.0,1672.7 L1616.0,1672.7 L1617.0,1672.7 L1618.0,1672.5 L1619.0,1672.3 L1620.0,1672.2 L1621.1,1672.1 L1622.2,1672.2 L1623.3,1672.6 L1624.4,1673.3 L1625.6,1674.4 L1626.8,1675.8 L1628.1,1677.5 L1629.4,1679.3 L1630.7,1681.3 L1632.0,1683.2 L1633.4,1685.1 L1634.8,1686.8 L1636.2,1688.3 L1637.8,1689.8 L1639.3,1691.2 L1640.9,1692.7 L1642.5,1694.1 L1644.0,1695.5 L1645.4,1697.1 L1646.8,1698.7 L1648.1,1700.4 L1649.3,1702.1 L1650.4,1703.8 L1651.5,1705.6 L1652.6,1707.5 L1653.6,1709.5 L1654.7,1711.5 L1655.7,1713.7 L1656.7,1716.0 L1657.7,1718.4 L1658.6,1721.0 L1659.5,1723.6 L1660.4,1726.3 L1661.4,1729.0 L1662.3,1731.8 L1663.2,1734.6 L1664.1,1737.4 L1665.1,1740.4 L1666.0,1743.3 L1667.0,1746.4 L1667.9,1749.4 L1668.8,1752.5 L1669.8,1755.5 L1670.7,1758.5 L1671.6,1761.5 L1672.6,1764.5 L1673.5,1767.5 L1674.4,1770.5 L1675.3,1773.4 L1676.2,1776.4 L1677.2,1779.4 L1678.1,1782.4 L1679.0,1785.4 L1680.0,1788.4 L1680.9,1791.4 L1681.8,1794.4 L1682.8,1797.3 L1683.7,1800.3 L1684.7,1803.3 L1685.6,1806.3 L1686.5,1809.3 L1687.5,1812.3 L1688.5,1815.3 L1689.4,1818.2 L1690.4,1821.2 L1691.3,1824.2 L1692.2,1827.2 L1693.1,1830.2 L1694.0,1833.2 L1694.8,1836.1 L1695.6,1839.1 L1696.4,1842.1 L1697.2,1845.0 L1698.0,1848.0 L1698.8,1851.0 L1699.6,1854.1 L1700.4,1857.2 L1701.3,1860.3 L1702.1,1863.5 L1703.0,1866.7 L1703.9,1869.9 L1704.7,1873.1 L1705.6,1876.3 L1706.5,1879.5 L1707.4,1882.7 L1708.3,1885.9 L1709.3,1889.1 L1710.2,1892.3 L1711.2,1895.5 L1712.1,1898.7 L1713.1,1901.8 L1714.0,1904.9 L1714.9,1908.0 L1715.9,1911.0 L1716.8,1914.0 L1717.8,1916.9 L1718.7,1919.9 L1719.6,1922.9 L1720.6,1925.8 L1721.5,1928.8 L1722.4,1931.8 L1723.4,1934.8 L1724.3,1937.8 L1725.2,1940.8 L1726.1,1943.7 L1727.0,1946.7 L1728.0,1949.7 L1728.9,1952.7 L1729.8,1955.7 L1730.8,1958.7 L1731.7,1961.7 L1732.6,1964.7 L1733.6,1967.6 L1734.5,1970.6 L1735.5,1973.6 L1736.4,1976.6 L1737.3,1979.6 L1738.3,1982.6 L1739.2,1985.6 L1740.2,1988.7 L1741.1,1991.7 L1742.0,1994.7 L1743.0,1997.6 L1743.9,2000.5 L1744.8,2003.3 L1745.7,2006.1 L1746.6,2008.8 L1747.5,2011.5 L1748.4,2014.2 L1749.3,2016.9 L1750.3,2019.7 L1751.3,2022.5 L1752.3,2025.4 L1753.4,2028.4 L1754.6,2031.4 L1755.7,2034.4 L1756.9,2037.4 L1758.0,2040.5 L1759.2,2043.5 L1760.3,2046.5 L1761.4,2049.5 L1762.6,2052.5 L1763.7,2055.6 L1764.8,2058.6 L1765.9,2061.6 L1767.1,2064.6 L1768.2,2067.6 L1769.3,2070.5 L1770.4,2073.4 L1771.5,2076.4 L1772.6,2079.3 L1773.8,2082.2 L1774.9,2085.0 L1776.0,2087.8 L1777.1,2090.5 L1778.2,2093.1 L1779.3,2095.6 L1780.4,2098.0 L1781.4,2100.3 L1782.5,2102.5 L1783.6,2104.7 L1784.7,2106.8 L1785.9,2108.9 L1787.2,2111.0 L1788.5,2113.0 L1789.9,2115.0 L1791.3,2116.9 L1792.8,2118.8 L1794.3,2120.7 L1795.8,2122.5 L1797.4,2124.5 L1799.1,2126.5 L1800.8,2128.6 L1802.6,2130.7 L1804.5,2132.9 L1806.4,2135.1 L1808.3,2137.3 L1810.3,2139.5 L1812.2,2141.7 L1814.1,2143.9 L1816.0,2146.1 L1817.8,2148.2 L1819.7,2150.4 L1821.5,2152.6 L1823.4,2154.7 L1825.3,2156.8 L1827.1,2158.9 L1829.0,2161.0 L1830.9,2163.0 L1832.7,2165.1 L1834.6,2167.1 L1836.5,2169.0 L1838.4,2171.0 L1840.3,2172.9 L1842.1,2174.9 L1844.0,2176.8 L1845.9,2178.7 L1847.8,2180.7 L1849.7,2182.6 L1851.6,2184.5 L1853.5,2186.4 L1855.4,2188.2 L1857.2,2190.0 L1858.9,2191.7 L1860.6,2193.4 L1862.2,2195.0 L1863.7,2196.5 L1865.3,2198.1 L1866.8,2199.5 L1868.2,2200.9 L1869.6,2202.3 L1870.9,2203.6 L1872.2,2204.9 L1873.6,2206.1 L1874.9,2207.4 L1876.1,2208.5 L1877.3,2209.6 L1878.3,2210.6 L1879.1,2211.4 L1879.8,2212.0" fill="none" stroke="#8C64A8" stroke-width="10" stroke-linejoin="round" stroke-linecap="butt"/></g>
<rect x="1563.4" y="1465.5" width="439.1999999999998" height="181.5" fill="#fff" stroke="#000" stroke-width="4.8"/>
<rect x="1596.4" y="1507.1" width="131.5" height="10.4" fill="#DE4E4E"/>
<rect x="1596.4" y="1595.5" width="131.5" height="10.4" fill="#8C64A8"/>
<text class="g" x="1738.4" y="1531.0">42ft cars</text>
<text class="g" x="1738.4" y="1620.0">53ft cars</text>
<text class="t" x="1237.7" y="1307.5" text-anchor="middle">Bending Stress at Mid-Span</text>
<text class="l" x="182" y="2230.4" text-anchor="end">0</text>
<text class="l" x="182" y="2043.2" text-anchor="end">1</text>
<text class="l" x="182" y="1856.0" text-anchor="end">2</text>
<text class="l" x="182" y="1668.1" text-anchor="end">3</text>
<text class="l" x="182" y="1481.0" text-anchor="end">4</text>
<text class="l" x="241.8" y="2314.5" text-anchor="middle">0</text>
<text class="l" x="681.5" y="2314.5" text-anchor="middle">200</text>
<text class="l" x="1121.0" y="2314.5" text-anchor="middle">400</text>
<text class="l" x="1560.6" y="2314.5" text-anchor="middle">600</text>
<text class="l" x="2003.0" y="2314.5" text-anchor="middle">800</text>
<text class="l" x="1122.5" y="2383" text-anchor="middle">Distance traveled, ft</text>
<text class="l" style="font-size:73px" transform="translate(98,1847) rotate(-90)" text-anchor="middle">Stress, ksi</text>
<rect x="2152.5" y="139.2" width="4.8" height="4.8" fill="#D0D0D0"/>
<rect x="2152.5" y="237.8" width="4.8" height="4.8" fill="#D0D0D0"/>
<rect x="2152.5" y="336.5" width="4.8" height="4.8" fill="#D0D0D0"/>
<rect x="2152.5" y="435.2" width="4.8" height="4.8" fill="#D0D0D0"/>
<rect x="2152.5" y="533.8" width="4.8" height="4.8" fill="#D0D0D0"/>
<rect x="2152.5" y="632.5" width="4.8" height="4.8" fill="#D0D0D0"/>
<rect x="2152.5" y="731.1" width="4.8" height="4.8" fill="#D0D0D0"/>
<rect x="2152.5" y="829.8" width="4.8" height="4.8" fill="#D0D0D0"/>
<rect x="2152.5" y="928.4" width="4.8" height="4.8" fill="#D0D0D0"/>
<rect x="2152.5" y="1027.0" width="4.8" height="4.8" fill="#D0D0D0"/>
<rect x="2152.5" y="1125.7" width="4.8" height="4.8" fill="#D0D0D0"/>
<rect x="2152.5" y="1224.3" width="4.8" height="4.8" fill="#D0D0D0"/>
<rect x="2152.5" y="1323.0" width="4.8" height="4.8" fill="#D0D0D0"/>
<rect x="2152.5" y="1421.6" width="4.8" height="4.8" fill="#D0D0D0"/>
<rect x="2152.5" y="1520.3" width="4.8" height="4.8" fill="#D0D0D0"/>
<rect x="2152.5" y="1618.9" width="4.8" height="4.8" fill="#D0D0D0"/>
<rect x="2152.5" y="1717.6" width="4.8" height="4.8" fill="#D0D0D0"/>
<rect x="2152.5" y="1816.2" width="4.8" height="4.8" fill="#D0D0D0"/>
<rect x="2152.5" y="1914.9" width="4.8" height="4.8" fill="#D0D0D0"/>
<rect x="2152.5" y="2013.5" width="4.8" height="4.8" fill="#D0D0D0"/>
<rect x="2152.5" y="2112.2" width="4.8" height="4.8" fill="#D0D0D0"/>
<rect x="2152.5" y="2210.8" width="4.8" height="4.8" fill="#D0D0D0"/>
<rect x="2152.5" y="2309.5" width="4.8" height="4.8" fill="#D0D0D0"/>
</svg></body></html>
